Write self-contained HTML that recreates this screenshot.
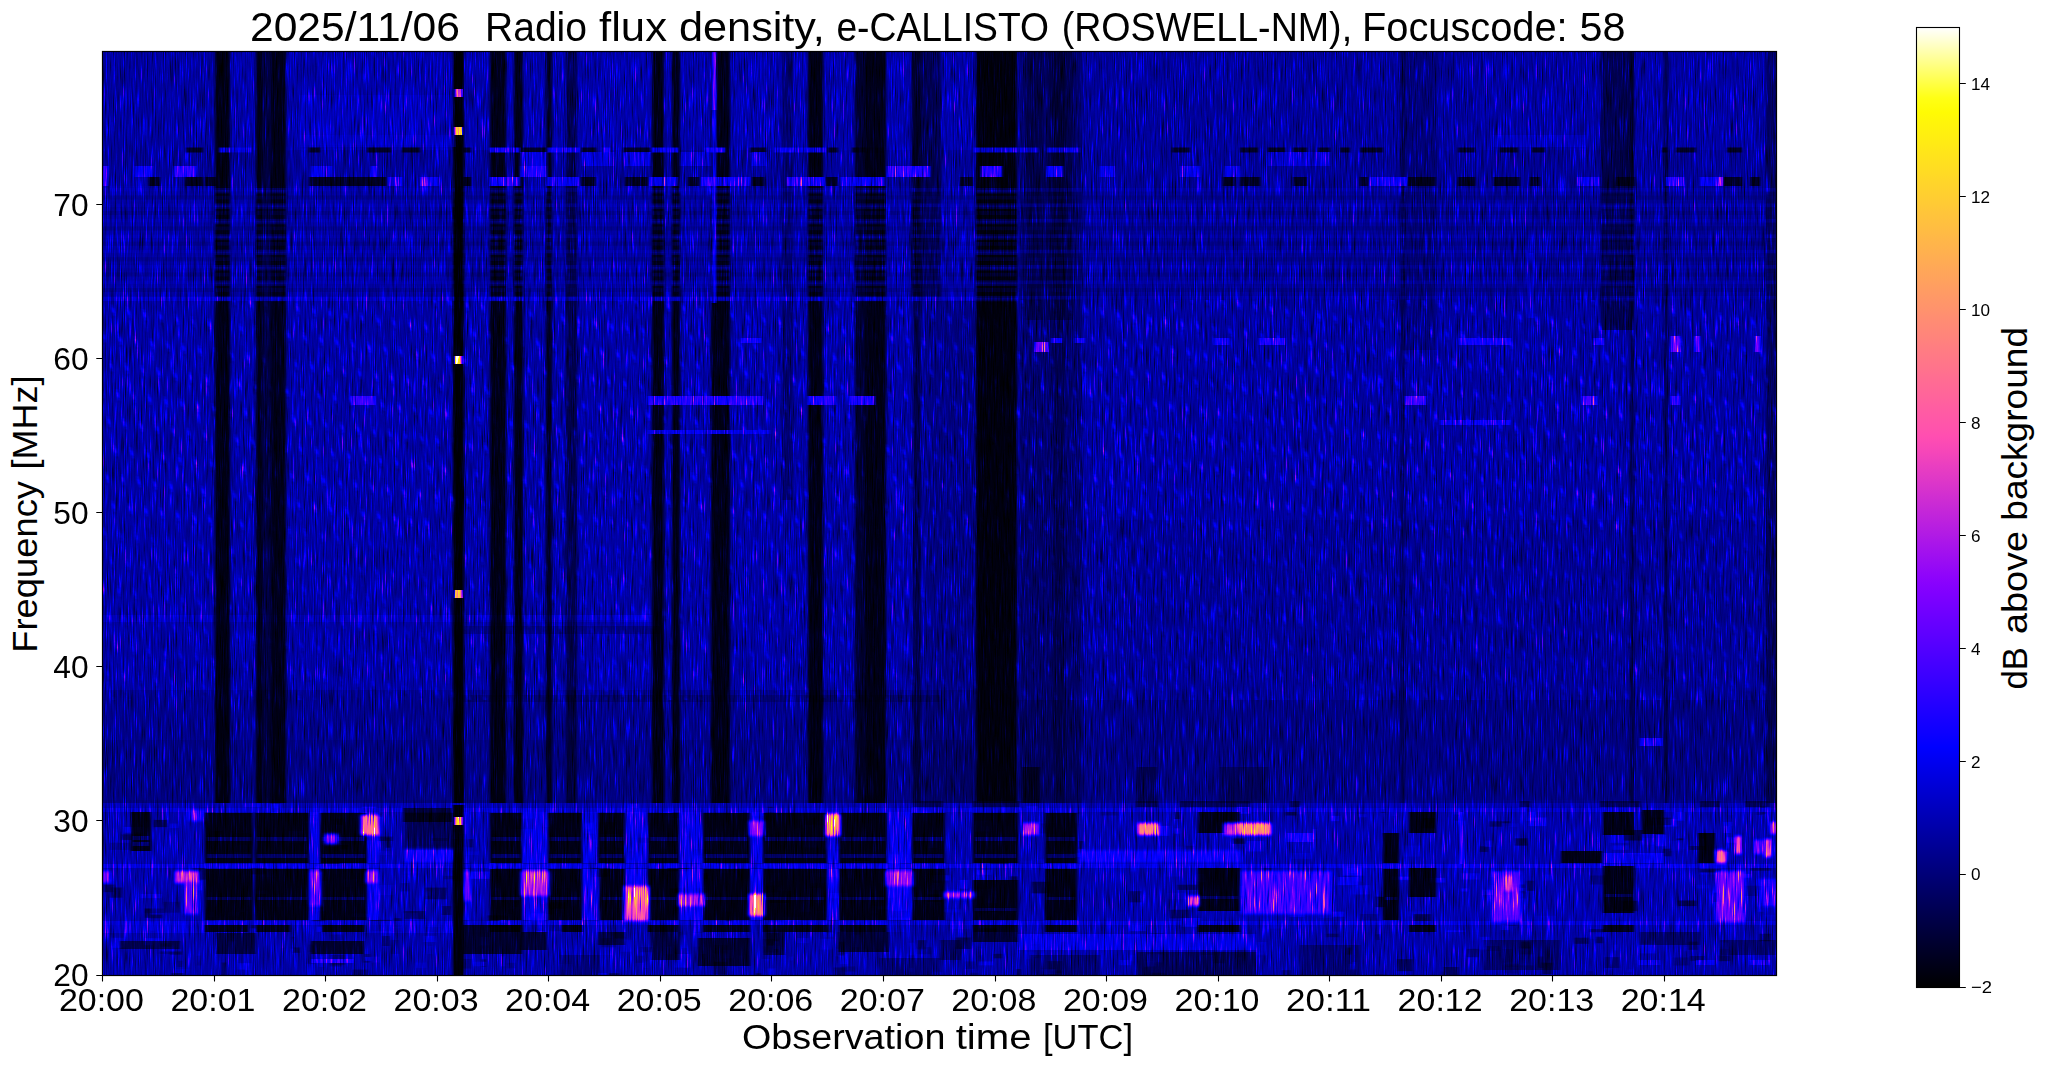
<!DOCTYPE html><html><head><meta charset="utf-8"><style>html,body{margin:0;padding:0;background:#fff;overflow:hidden;}svg{display:block}text{font-family:"Liberation Sans",sans-serif;fill:#000}</style></head><body>
<svg width="2047" height="1067" viewBox="0 0 2047 1067">
<rect width="2047" height="1067" fill="#fff"/>
<defs>
<filter id="cmap" x="0" y="0" width="1" height="1" filterUnits="objectBoundingBox" color-interpolation-filters="sRGB"><feColorMatrix in="SourceGraphic" type="matrix" values="1 0 0 0 0  1 0 0 0 0  1 0 0 0 0  0 0 0 0 1" result="src0"/><feGaussianBlur in="src0" stdDeviation="0.8 0.5" result="src"/><feTurbulence type="fractalNoise" baseFrequency="0.9 0.035" numOctaves="2" seed="5" result="nz0"/><feColorMatrix in="nz0" type="matrix" values="1 0 0 0 0  1 0 0 0 0  1 0 0 0 0  0 0 0 0 1" result="nz1"/><feComponentTransfer in="nz1" result="nz"><feFuncR type="table" tableValues="0.045 0.068 0.136 0.218 0.282 0.318 0.364 0.477 0.682 0.864 0.955"/><feFuncG type="table" tableValues="0.045 0.068 0.136 0.218 0.282 0.318 0.364 0.477 0.682 0.864 0.955"/><feFuncB type="table" tableValues="0.045 0.068 0.136 0.218 0.282 0.318 0.364 0.477 0.682 0.864 0.955"/></feComponentTransfer><feComposite in="src" in2="nz" operator="arithmetic" k1="2.2" k2="0.3" k3="0.1" k4="-0.03"/><feComponentTransfer><feFuncR type="table" tableValues="0 0 0 0 0 0 0 0 0 0 0 0 0 0 0 0 0 0 0 0 0 0 0 0 0 0 0 0 0 0 0 0 0 0 0 0 0 0 0 0 0 0 0 0 0 0 0 0 0 0 0 0 0 0 0 0 0 0 0 0 0 0 0 0 0.003064 0.01532 0.02757 0.03983 0.05208 0.06434 0.07659 0.08885 0.1011 0.1134 0.1256 0.1379 0.1501 0.1624 0.1746 0.1869 0.1991 0.2114 0.2237 0.2359 0.2482 0.2604 0.2727 0.2849 0.2972 0.3094 0.3217 0.3339 0.3462 0.3585 0.3707 0.383 0.3952 0.4075 0.4197 0.432 0.4442 0.4565 0.4688 0.481 0.4933 0.5055 0.5178 0.53 0.5423 0.5545 0.5668 0.579 0.5913 0.6036 0.6158 0.6281 0.6403 0.6526 0.6648 0.6771 0.6893 0.7016 0.7138 0.7261 0.7384 0.7506 0.7629 0.7751 0.7874 0.7996 0.8119 0.8241 0.8364 0.8487 0.8609 0.8732 0.8854 0.8977 0.9099 0.9222 0.9344 0.9467 0.9589 0.9712 0.9835 0.9957 1 1 1 1 1 1 1 1 1 1 1 1 1 1 1 1 1 1 1 1 1 1 1 1 1 1 1 1 1 1 1 1 1 1 1 1 1 1 1 1 1 1 1 1 1 1 1 1 1 1 1 1 1 1 1 1 1 1 1 1 1 1 1 1 1 1 1 1 1 1 1 1 1 1 1 1 1 1 1 1 1 1 1 1 1 1 1 1 1 1 1 1 1 1 1 1 1 1 1 1 1 1 1 1 1 1 1 1 1 1"/><feFuncG type="table" tableValues="0 0 0 0 0 0 0 0 0 0 0 0 0 0 0 0 0 0 0 0 0 0 0 0 0 0 0 0 0 0 0 0 0 0 0 0 0 0 0 0 0 0 0 0 0 0 0 0 0 0 0 0 0 0 0 0 0 0 0 0 0 0 0 0 0 0 0 0 0 0 0 0 0 0 0 0 0 0 0 0 0 0 0 0 0 0 0 0 0 0 0 0 0 0 0 0 0 0 0 0 0 0 0 0 0 0 0 0 0.007059 0.0149 0.02275 0.03059 0.03843 0.04627 0.05412 0.06196 0.0698 0.07765 0.08549 0.09333 0.1012 0.109 0.1169 0.1247 0.1325 0.1404 0.1482 0.1561 0.1639 0.1718 0.1796 0.1875 0.1953 0.2031 0.211 0.2188 0.2267 0.2345 0.2424 0.2502 0.258 0.2659 0.2737 0.2816 0.2894 0.2973 0.3051 0.3129 0.3208 0.3286 0.3365 0.3443 0.3522 0.36 0.3678 0.3757 0.3835 0.3914 0.3992 0.4071 0.4149 0.4227 0.4306 0.4384 0.4463 0.4541 0.462 0.4698 0.4776 0.4855 0.4933 0.5012 0.509 0.5169 0.5247 0.5325 0.5404 0.5482 0.5561 0.5639 0.5718 0.5796 0.5875 0.5953 0.6031 0.611 0.6188 0.6267 0.6345 0.6424 0.6502 0.658 0.6659 0.6737 0.6816 0.6894 0.6973 0.7051 0.7129 0.7208 0.7286 0.7365 0.7443 0.7522 0.76 0.7678 0.7757 0.7835 0.7914 0.7992 0.8071 0.8149 0.8227 0.8306 0.8384 0.8463 0.8541 0.862 0.8698 0.8776 0.8855 0.8933 0.9012 0.909 0.9169 0.9247 0.9325 0.9404 0.9482 0.9561 0.9639 0.9718 0.9796 0.9875 0.9953 1 1 1 1 1 1 1 1 1 1 1 1 1 1 1 1 1 1 1 1 1"/><feFuncB type="table" tableValues="0 0.01569 0.03137 0.04706 0.06275 0.07843 0.09412 0.1098 0.1255 0.1412 0.1569 0.1725 0.1882 0.2039 0.2196 0.2353 0.251 0.2667 0.2824 0.298 0.3137 0.3294 0.3451 0.3608 0.3765 0.3922 0.4078 0.4235 0.4392 0.4549 0.4706 0.4863 0.502 0.5176 0.5333 0.549 0.5647 0.5804 0.5961 0.6118 0.6275 0.6431 0.6588 0.6745 0.6902 0.7059 0.7216 0.7373 0.7529 0.7686 0.7843 0.8 0.8157 0.8314 0.8471 0.8627 0.8784 0.8941 0.9098 0.9255 0.9412 0.9569 0.9725 0.9882 1 1 1 1 1 1 1 1 1 1 1 1 1 1 1 1 1 1 1 1 1 1 1 1 1 1 1 1 1 1 1 1 1 1 1 1 1 1 1 1 1 1 1 1 0.9929 0.9851 0.9773 0.9694 0.9616 0.9537 0.9459 0.938 0.9302 0.9224 0.9145 0.9067 0.8988 0.891 0.8831 0.8753 0.8675 0.8596 0.8518 0.8439 0.8361 0.8282 0.8204 0.8125 0.8047 0.7969 0.789 0.7812 0.7733 0.7655 0.7576 0.7498 0.742 0.7341 0.7263 0.7184 0.7106 0.7027 0.6949 0.6871 0.6792 0.6714 0.6635 0.6557 0.6478 0.64 0.6322 0.6243 0.6165 0.6086 0.6008 0.5929 0.5851 0.5773 0.5694 0.5616 0.5537 0.5459 0.538 0.5302 0.5224 0.5145 0.5067 0.4988 0.491 0.4831 0.4753 0.4675 0.4596 0.4518 0.4439 0.4361 0.4282 0.4204 0.4125 0.4047 0.3969 0.389 0.3812 0.3733 0.3655 0.3576 0.3498 0.342 0.3341 0.3263 0.3184 0.3106 0.3027 0.2949 0.2871 0.2792 0.2714 0.2635 0.2557 0.2478 0.24 0.2322 0.2243 0.2165 0.2086 0.2008 0.1929 0.1851 0.1773 0.1694 0.1616 0.1537 0.1459 0.138 0.1302 0.1224 0.1145 0.1067 0.09882 0.09098 0.08314 0.07529 0.06745 0.05961 0.05176 0.04392 0.03608 0.02824 0.02039 0.01255 0.004706 0.01961 0.06863 0.1176 0.1667 0.2157 0.2647 0.3137 0.3627 0.4118 0.4608 0.5098 0.5588 0.6078 0.6569 0.7059 0.7549 0.8039 0.8529 0.902 0.951 1"/></feComponentTransfer></filter>
<linearGradient id="cbg" x1="0" y1="1" x2="0" y2="0"><stop offset="0.0000" stop-color="#000000"/><stop offset="0.0147" stop-color="#00000f"/><stop offset="0.0294" stop-color="#00001e"/><stop offset="0.0441" stop-color="#00002d"/><stop offset="0.0588" stop-color="#00003c"/><stop offset="0.0735" stop-color="#00004b"/><stop offset="0.0882" stop-color="#00005a"/><stop offset="0.1029" stop-color="#000069"/><stop offset="0.1176" stop-color="#000078"/><stop offset="0.1324" stop-color="#000087"/><stop offset="0.1471" stop-color="#000096"/><stop offset="0.1618" stop-color="#0000a5"/><stop offset="0.1765" stop-color="#0000b4"/><stop offset="0.1912" stop-color="#0000c3"/><stop offset="0.2059" stop-color="#0000d2"/><stop offset="0.2206" stop-color="#0000e1"/><stop offset="0.2353" stop-color="#0000f0"/><stop offset="0.2500" stop-color="#0000ff"/><stop offset="0.2647" stop-color="#0c00ff"/><stop offset="0.2794" stop-color="#1700ff"/><stop offset="0.2941" stop-color="#2300ff"/><stop offset="0.3088" stop-color="#2f00ff"/><stop offset="0.3235" stop-color="#3b00ff"/><stop offset="0.3382" stop-color="#4600ff"/><stop offset="0.3529" stop-color="#5200ff"/><stop offset="0.3676" stop-color="#5e00ff"/><stop offset="0.3824" stop-color="#6900ff"/><stop offset="0.3971" stop-color="#7500ff"/><stop offset="0.4118" stop-color="#8100ff"/><stop offset="0.4265" stop-color="#8d03fc"/><stop offset="0.4412" stop-color="#980bf4"/><stop offset="0.4559" stop-color="#a412ed"/><stop offset="0.4706" stop-color="#b01ae5"/><stop offset="0.4853" stop-color="#bc21de"/><stop offset="0.5000" stop-color="#c729d6"/><stop offset="0.5147" stop-color="#d330cf"/><stop offset="0.5294" stop-color="#df38c7"/><stop offset="0.5441" stop-color="#ea3fc0"/><stop offset="0.5588" stop-color="#f647b8"/><stop offset="0.5735" stop-color="#ff4eb1"/><stop offset="0.5882" stop-color="#ff56a9"/><stop offset="0.6029" stop-color="#ff5da2"/><stop offset="0.6176" stop-color="#ff659a"/><stop offset="0.6324" stop-color="#ff6c93"/><stop offset="0.6471" stop-color="#ff748b"/><stop offset="0.6618" stop-color="#ff7b84"/><stop offset="0.6765" stop-color="#ff837c"/><stop offset="0.6912" stop-color="#ff8a75"/><stop offset="0.7059" stop-color="#ff926d"/><stop offset="0.7206" stop-color="#ff9966"/><stop offset="0.7353" stop-color="#ffa15e"/><stop offset="0.7500" stop-color="#ffa857"/><stop offset="0.7647" stop-color="#ffb04f"/><stop offset="0.7794" stop-color="#ffb748"/><stop offset="0.7941" stop-color="#ffbf40"/><stop offset="0.8088" stop-color="#ffc639"/><stop offset="0.8235" stop-color="#ffce31"/><stop offset="0.8382" stop-color="#ffd52a"/><stop offset="0.8529" stop-color="#ffdd22"/><stop offset="0.8676" stop-color="#ffe41b"/><stop offset="0.8824" stop-color="#ffec13"/><stop offset="0.8971" stop-color="#fff30c"/><stop offset="0.9118" stop-color="#fffb04"/><stop offset="0.9265" stop-color="#ffff15"/><stop offset="0.9412" stop-color="#ffff43"/><stop offset="0.9559" stop-color="#ffff72"/><stop offset="0.9706" stop-color="#ffffa1"/><stop offset="0.9853" stop-color="#ffffd0"/><stop offset="1.0000" stop-color="#ffffff"/></linearGradient>
</defs>
<clipPath id="axclip"><rect x="102.5" y="51.5" width="1674" height="924"/></clipPath>
<g clip-path="url(#axclip)"><g filter="url(#cmap)"><rect x="94" y="43" width="1691" height="940" fill="#262626"/><rect x="94.0" y="43.0" width="1691.0" height="940.0" fill="#262626"/><rect x="102.0" y="51.0" width="873.0" height="99.0" fill="#2a2a2a"/><rect x="102.0" y="51.0" width="113.0" height="99.0" fill="#272727"/><rect x="300.0" y="95.0" width="155.0" height="50.0" fill="#303030" opacity="0.80"/><rect x="102.0" y="186.0" width="873.0" height="114.0" fill="#282828"/><rect x="102.0" y="300.0" width="873.0" height="500.0" fill="#282828"/><rect x="1017.0" y="51.0" width="760.0" height="99.0" fill="#262626"/><rect x="1017.0" y="150.0" width="760.0" height="150.0" fill="#252525"/><rect x="1017.0" y="300.0" width="760.0" height="220.0" fill="#272727"/><rect x="1017.0" y="520.0" width="760.0" height="280.0" fill="#242424"/><rect x="1480.0" y="51.0" width="296.0" height="99.0" fill="#292929" opacity="0.80"/><rect x="102.0" y="615.0" width="558.0" height="7.0" fill="#333333" opacity="0.60"/><rect x="460.0" y="626.0" width="200.0" height="8.0" fill="#141414" opacity="0.45"/><rect x="465.0" y="615.0" width="185.0" height="5.0" fill="#383838" opacity="0.50"/><rect x="460.0" y="695.0" width="480.0" height="7.0" fill="#141414" opacity="0.40"/><rect x="102.0" y="690.0" width="873.0" height="50.0" fill="#000" opacity="0.12"/><rect x="102.0" y="740.0" width="873.0" height="65.0" fill="#000" opacity="0.20"/><rect x="975.0" y="700.0" width="802.0" height="105.0" fill="#000" opacity="0.10"/><defs><pattern id="rain" x="0" y="0" width="16" height="29" patternUnits="userSpaceOnUse" patternTransform="matrix(1 0.144 0.241 1 0 0)"><rect x="7" y="9" width="1.2" height="11" fill="#474747"/><rect x="7" y="12" width="1.2" height="5" fill="#6b6b6b"/></pattern><pattern id="rain2" x="0" y="0" width="16" height="29" patternUnits="userSpaceOnUse" patternTransform="matrix(1 0.144 0.241 1 5 14)"><rect x="3" y="9" width="1.1" height="9" fill="#404040"/></pattern></defs><rect x="102" y="300" width="1675" height="230" fill="url(#rain)" opacity="0.85"/><rect x="102" y="530" width="1675" height="170" fill="url(#rain)" opacity="0.5"/><rect x="102" y="300" width="1675" height="400" fill="url(#rain2)" opacity="0.45"/><rect x="102" y="51" width="1675" height="100" fill="url(#rain2)" opacity="0.35"/><rect x="215.0" y="51.0" width="15.0" height="754.0" fill="#000" opacity="0.88"/><rect x="256.0" y="51.0" width="6.0" height="754.0" fill="#000" opacity="0.85"/><rect x="262.0" y="51.0" width="9.0" height="754.0" fill="#000" opacity="0.60"/><rect x="271.0" y="51.0" width="15.0" height="754.0" fill="#000" opacity="0.85"/><rect x="453.0" y="51.0" width="11.0" height="754.0" fill="#000" opacity="0.96"/><rect x="490.0" y="51.0" width="16.0" height="754.0" fill="#000" opacity="0.86"/><rect x="514.0" y="51.0" width="9.0" height="754.0" fill="#000" opacity="0.86"/><rect x="546.0" y="51.0" width="6.0" height="754.0" fill="#000" opacity="0.78"/><rect x="566.0" y="51.0" width="11.0" height="754.0" fill="#000" opacity="0.55"/><rect x="652.0" y="51.0" width="12.0" height="754.0" fill="#000" opacity="0.88"/><rect x="672.0" y="51.0" width="8.0" height="754.0" fill="#000" opacity="0.86"/><rect x="711.0" y="51.0" width="19.0" height="754.0" fill="#000" opacity="0.86"/><rect x="808.0" y="51.0" width="15.0" height="754.0" fill="#000" opacity="0.88"/><rect x="855.0" y="51.0" width="10.0" height="754.0" fill="#000" opacity="0.70"/><rect x="865.0" y="51.0" width="21.0" height="754.0" fill="#000" opacity="0.86"/><rect x="913.0" y="51.0" width="8.0" height="754.0" fill="#000" opacity="0.55"/><rect x="976.0" y="51.0" width="41.0" height="754.0" fill="#000" opacity="0.90"/><rect x="1630.0" y="51.0" width="4.0" height="754.0" fill="#000" opacity="0.50"/><rect x="1664.0" y="51.0" width="4.0" height="754.0" fill="#000" opacity="0.50"/><rect x="1400.0" y="51.0" width="5.0" height="754.0" fill="#000" opacity="0.35"/><rect x="1766.0" y="51.0" width="10.0" height="754.0" fill="#000" opacity="0.40"/><rect x="1601.0" y="51.0" width="33.0" height="279.0" fill="#000" opacity="0.50"/><rect x="782.0" y="51.0" width="11.0" height="449.0" fill="#000" opacity="0.30"/><rect x="911.0" y="51.0" width="30.0" height="249.0" fill="#000" opacity="0.50"/><rect x="1020.0" y="51.0" width="62.0" height="754.0" fill="#000" opacity="0.30"/><rect x="925.0" y="300.0" width="50.0" height="505.0" fill="#000" opacity="0.20"/><rect x="1053.0" y="51.0" width="12.0" height="754.0" fill="#000" opacity="0.25"/><rect x="1026.0" y="51.0" width="17.0" height="269.0" fill="#000" opacity="0.30"/><rect x="1047.0" y="51.0" width="26.0" height="269.0" fill="#000" opacity="0.30"/><rect x="1402.0" y="51.0" width="35.0" height="299.0" fill="#000" opacity="0.20"/><rect x="1137.0" y="767.0" width="20.0" height="38.0" fill="#000" opacity="0.40"/><rect x="1219.0" y="767.0" width="49.0" height="38.0" fill="#000" opacity="0.30"/><rect x="1022.0" y="767.0" width="18.0" height="38.0" fill="#000" opacity="0.60"/><rect x="215.0" y="190.0" width="15.0" height="3.5" fill="#262626" opacity="0.45"/><rect x="254.0" y="190.0" width="33.0" height="3.5" fill="#262626" opacity="0.45"/><rect x="490.0" y="190.0" width="16.0" height="3.5" fill="#262626" opacity="0.45"/><rect x="514.0" y="190.0" width="9.0" height="3.5" fill="#262626" opacity="0.45"/><rect x="652.0" y="190.0" width="12.0" height="3.5" fill="#262626" opacity="0.45"/><rect x="672.0" y="190.0" width="8.0" height="3.5" fill="#262626" opacity="0.45"/><rect x="711.0" y="190.0" width="19.0" height="3.5" fill="#262626" opacity="0.45"/><rect x="808.0" y="190.0" width="15.0" height="3.5" fill="#262626" opacity="0.45"/><rect x="852.0" y="190.0" width="34.0" height="3.5" fill="#262626" opacity="0.45"/><rect x="976.0" y="190.0" width="41.0" height="3.5" fill="#262626" opacity="0.45"/><rect x="1601.0" y="190.0" width="33.0" height="3.5" fill="#262626" opacity="0.45"/><rect x="215.0" y="205.4" width="15.0" height="3.5" fill="#262626" opacity="0.45"/><rect x="254.0" y="205.4" width="33.0" height="3.5" fill="#262626" opacity="0.45"/><rect x="490.0" y="205.4" width="16.0" height="3.5" fill="#262626" opacity="0.45"/><rect x="514.0" y="205.4" width="9.0" height="3.5" fill="#262626" opacity="0.45"/><rect x="652.0" y="205.4" width="12.0" height="3.5" fill="#262626" opacity="0.45"/><rect x="672.0" y="205.4" width="8.0" height="3.5" fill="#262626" opacity="0.45"/><rect x="711.0" y="205.4" width="19.0" height="3.5" fill="#262626" opacity="0.45"/><rect x="808.0" y="205.4" width="15.0" height="3.5" fill="#262626" opacity="0.45"/><rect x="852.0" y="205.4" width="34.0" height="3.5" fill="#262626" opacity="0.45"/><rect x="976.0" y="205.4" width="41.0" height="3.5" fill="#262626" opacity="0.45"/><rect x="1601.0" y="205.4" width="33.0" height="3.5" fill="#262626" opacity="0.45"/><rect x="215.0" y="220.8" width="15.0" height="3.5" fill="#262626" opacity="0.45"/><rect x="254.0" y="220.8" width="33.0" height="3.5" fill="#262626" opacity="0.45"/><rect x="490.0" y="220.8" width="16.0" height="3.5" fill="#262626" opacity="0.45"/><rect x="514.0" y="220.8" width="9.0" height="3.5" fill="#262626" opacity="0.45"/><rect x="652.0" y="220.8" width="12.0" height="3.5" fill="#262626" opacity="0.45"/><rect x="672.0" y="220.8" width="8.0" height="3.5" fill="#262626" opacity="0.45"/><rect x="711.0" y="220.8" width="19.0" height="3.5" fill="#262626" opacity="0.45"/><rect x="808.0" y="220.8" width="15.0" height="3.5" fill="#262626" opacity="0.45"/><rect x="852.0" y="220.8" width="34.0" height="3.5" fill="#262626" opacity="0.45"/><rect x="976.0" y="220.8" width="41.0" height="3.5" fill="#262626" opacity="0.45"/><rect x="1601.0" y="220.8" width="33.0" height="3.5" fill="#262626" opacity="0.45"/><rect x="215.0" y="236.2" width="15.0" height="3.5" fill="#262626" opacity="0.45"/><rect x="254.0" y="236.2" width="33.0" height="3.5" fill="#262626" opacity="0.45"/><rect x="490.0" y="236.2" width="16.0" height="3.5" fill="#262626" opacity="0.45"/><rect x="514.0" y="236.2" width="9.0" height="3.5" fill="#262626" opacity="0.45"/><rect x="652.0" y="236.2" width="12.0" height="3.5" fill="#262626" opacity="0.45"/><rect x="672.0" y="236.2" width="8.0" height="3.5" fill="#262626" opacity="0.45"/><rect x="711.0" y="236.2" width="19.0" height="3.5" fill="#262626" opacity="0.45"/><rect x="808.0" y="236.2" width="15.0" height="3.5" fill="#262626" opacity="0.45"/><rect x="852.0" y="236.2" width="34.0" height="3.5" fill="#262626" opacity="0.45"/><rect x="976.0" y="236.2" width="41.0" height="3.5" fill="#262626" opacity="0.45"/><rect x="1601.0" y="236.2" width="33.0" height="3.5" fill="#262626" opacity="0.45"/><rect x="215.0" y="251.6" width="15.0" height="3.5" fill="#262626" opacity="0.45"/><rect x="254.0" y="251.6" width="33.0" height="3.5" fill="#262626" opacity="0.45"/><rect x="490.0" y="251.6" width="16.0" height="3.5" fill="#262626" opacity="0.45"/><rect x="514.0" y="251.6" width="9.0" height="3.5" fill="#262626" opacity="0.45"/><rect x="652.0" y="251.6" width="12.0" height="3.5" fill="#262626" opacity="0.45"/><rect x="672.0" y="251.6" width="8.0" height="3.5" fill="#262626" opacity="0.45"/><rect x="711.0" y="251.6" width="19.0" height="3.5" fill="#262626" opacity="0.45"/><rect x="808.0" y="251.6" width="15.0" height="3.5" fill="#262626" opacity="0.45"/><rect x="852.0" y="251.6" width="34.0" height="3.5" fill="#262626" opacity="0.45"/><rect x="976.0" y="251.6" width="41.0" height="3.5" fill="#262626" opacity="0.45"/><rect x="1601.0" y="251.6" width="33.0" height="3.5" fill="#262626" opacity="0.45"/><rect x="215.0" y="267.0" width="15.0" height="3.5" fill="#262626" opacity="0.45"/><rect x="254.0" y="267.0" width="33.0" height="3.5" fill="#262626" opacity="0.45"/><rect x="490.0" y="267.0" width="16.0" height="3.5" fill="#262626" opacity="0.45"/><rect x="514.0" y="267.0" width="9.0" height="3.5" fill="#262626" opacity="0.45"/><rect x="652.0" y="267.0" width="12.0" height="3.5" fill="#262626" opacity="0.45"/><rect x="672.0" y="267.0" width="8.0" height="3.5" fill="#262626" opacity="0.45"/><rect x="711.0" y="267.0" width="19.0" height="3.5" fill="#262626" opacity="0.45"/><rect x="808.0" y="267.0" width="15.0" height="3.5" fill="#262626" opacity="0.45"/><rect x="852.0" y="267.0" width="34.0" height="3.5" fill="#262626" opacity="0.45"/><rect x="976.0" y="267.0" width="41.0" height="3.5" fill="#262626" opacity="0.45"/><rect x="1601.0" y="267.0" width="33.0" height="3.5" fill="#262626" opacity="0.45"/><rect x="215.0" y="282.4" width="15.0" height="3.5" fill="#262626" opacity="0.45"/><rect x="254.0" y="282.4" width="33.0" height="3.5" fill="#262626" opacity="0.45"/><rect x="490.0" y="282.4" width="16.0" height="3.5" fill="#262626" opacity="0.45"/><rect x="514.0" y="282.4" width="9.0" height="3.5" fill="#262626" opacity="0.45"/><rect x="652.0" y="282.4" width="12.0" height="3.5" fill="#262626" opacity="0.45"/><rect x="672.0" y="282.4" width="8.0" height="3.5" fill="#262626" opacity="0.45"/><rect x="711.0" y="282.4" width="19.0" height="3.5" fill="#262626" opacity="0.45"/><rect x="808.0" y="282.4" width="15.0" height="3.5" fill="#262626" opacity="0.45"/><rect x="852.0" y="282.4" width="34.0" height="3.5" fill="#262626" opacity="0.45"/><rect x="976.0" y="282.4" width="41.0" height="3.5" fill="#262626" opacity="0.45"/><rect x="1601.0" y="282.4" width="33.0" height="3.5" fill="#262626" opacity="0.45"/><rect x="215.0" y="297.8" width="15.0" height="3.5" fill="#262626" opacity="0.45"/><rect x="254.0" y="297.8" width="33.0" height="3.5" fill="#262626" opacity="0.45"/><rect x="490.0" y="297.8" width="16.0" height="3.5" fill="#262626" opacity="0.45"/><rect x="514.0" y="297.8" width="9.0" height="3.5" fill="#262626" opacity="0.45"/><rect x="652.0" y="297.8" width="12.0" height="3.5" fill="#262626" opacity="0.45"/><rect x="672.0" y="297.8" width="8.0" height="3.5" fill="#262626" opacity="0.45"/><rect x="711.0" y="297.8" width="19.0" height="3.5" fill="#262626" opacity="0.45"/><rect x="808.0" y="297.8" width="15.0" height="3.5" fill="#262626" opacity="0.45"/><rect x="852.0" y="297.8" width="34.0" height="3.5" fill="#262626" opacity="0.45"/><rect x="976.0" y="297.8" width="41.0" height="3.5" fill="#262626" opacity="0.45"/><rect x="1601.0" y="297.8" width="33.0" height="3.5" fill="#262626" opacity="0.45"/><rect x="300.0" y="135.0" width="155.0" height="12.0" fill="#333333" opacity="0.60"/><rect x="1493.0" y="135.0" width="93.0" height="12.0" fill="#333333" opacity="0.60"/><rect x="186.0" y="147.5" width="17.0" height="5.0" fill="#050505" opacity="0.85"/><rect x="309.0" y="147.5" width="11.0" height="5.0" fill="#050505" opacity="0.85"/><rect x="367.0" y="147.5" width="24.0" height="5.0" fill="#050505" opacity="0.85"/><rect x="402.0" y="147.5" width="18.0" height="5.0" fill="#050505" opacity="0.85"/><rect x="461.0" y="147.5" width="10.0" height="5.0" fill="#050505" opacity="0.85"/><rect x="520.0" y="147.5" width="27.0" height="5.0" fill="#050505" opacity="0.85"/><rect x="581.0" y="147.5" width="15.0" height="5.0" fill="#050505" opacity="0.85"/><rect x="623.0" y="147.5" width="28.0" height="5.0" fill="#050505" opacity="0.85"/><rect x="750.0" y="147.5" width="16.0" height="5.0" fill="#050505" opacity="0.85"/><rect x="828.0" y="147.5" width="10.0" height="5.0" fill="#050505" opacity="0.85"/><rect x="852.0" y="147.5" width="33.0" height="5.0" fill="#050505" opacity="0.85"/><rect x="1172.0" y="147.5" width="18.0" height="5.0" fill="#050505" opacity="0.85"/><rect x="1240.0" y="147.5" width="18.0" height="5.0" fill="#050505" opacity="0.85"/><rect x="1268.0" y="147.5" width="17.0" height="5.0" fill="#050505" opacity="0.85"/><rect x="1293.0" y="147.5" width="14.0" height="5.0" fill="#050505" opacity="0.85"/><rect x="1318.0" y="147.5" width="12.0" height="5.0" fill="#050505" opacity="0.85"/><rect x="1340.0" y="147.5" width="10.0" height="5.0" fill="#050505" opacity="0.85"/><rect x="1360.0" y="147.5" width="23.0" height="5.0" fill="#050505" opacity="0.85"/><rect x="1458.0" y="147.5" width="17.0" height="5.0" fill="#050505" opacity="0.85"/><rect x="1500.0" y="147.5" width="18.0" height="5.0" fill="#050505" opacity="0.85"/><rect x="1532.0" y="147.5" width="13.0" height="5.0" fill="#050505" opacity="0.85"/><rect x="1662.0" y="147.5" width="6.0" height="5.0" fill="#050505" opacity="0.85"/><rect x="1676.0" y="147.5" width="20.0" height="5.0" fill="#050505" opacity="0.85"/><rect x="1727.0" y="147.5" width="15.0" height="5.0" fill="#050505" opacity="0.85"/><rect x="219.0" y="147.5" width="33.0" height="5.0" fill="#3d3d3d" opacity="0.80"/><rect x="490.0" y="147.5" width="30.0" height="5.0" fill="#4c4c4c" opacity="0.80"/><rect x="547.0" y="147.5" width="33.0" height="5.0" fill="#474747" opacity="0.80"/><rect x="602.0" y="147.5" width="8.0" height="5.0" fill="#474747" opacity="0.80"/><rect x="651.0" y="147.5" width="27.0" height="5.0" fill="#454545" opacity="0.80"/><rect x="705.0" y="147.5" width="20.0" height="5.0" fill="#4c4c4c" opacity="0.80"/><rect x="774.0" y="147.5" width="52.0" height="5.0" fill="#424242" opacity="0.80"/><rect x="973.0" y="147.5" width="65.0" height="5.0" fill="#404040" opacity="0.80"/><rect x="1047.0" y="147.5" width="33.0" height="5.0" fill="#404040" opacity="0.80"/><rect x="520.0" y="152.0" width="27.0" height="14.0" fill="#3d3d3d" opacity="0.80"/><rect x="582.0" y="152.0" width="32.0" height="14.0" fill="#3b3b3b" opacity="0.80"/><rect x="625.0" y="152.0" width="26.0" height="14.0" fill="#3d3d3d" opacity="0.80"/><rect x="680.0" y="152.0" width="31.0" height="14.0" fill="#3b3b3b" opacity="0.80"/><rect x="752.0" y="152.0" width="14.0" height="14.0" fill="#383838" opacity="0.80"/><rect x="1268.0" y="152.0" width="62.0" height="14.0" fill="#383838" opacity="0.80"/><rect x="100.0" y="166.0" width="8.0" height="11.0" fill="#525252" opacity="0.85"/><rect x="135.0" y="166.0" width="18.0" height="11.0" fill="#474747" opacity="0.85"/><rect x="174.0" y="166.0" width="22.0" height="11.0" fill="#545454" opacity="0.85"/><rect x="311.0" y="166.0" width="21.0" height="11.0" fill="#404040" opacity="0.85"/><rect x="371.0" y="166.0" width="6.0" height="11.0" fill="#4c4c4c" opacity="0.85"/><rect x="520.0" y="166.0" width="27.0" height="11.0" fill="#4c4c4c" opacity="0.85"/><rect x="887.0" y="166.0" width="43.0" height="11.0" fill="#545454" opacity="0.85"/><rect x="981.0" y="166.0" width="21.0" height="11.0" fill="#575757" opacity="0.85"/><rect x="1047.0" y="166.0" width="16.0" height="11.0" fill="#4c4c4c" opacity="0.85"/><rect x="1100.0" y="166.0" width="15.0" height="11.0" fill="#404040" opacity="0.85"/><rect x="1180.0" y="166.0" width="20.0" height="11.0" fill="#424242" opacity="0.85"/><rect x="1225.0" y="166.0" width="15.0" height="11.0" fill="#424242" opacity="0.85"/><rect x="149.0" y="177.0" width="11.0" height="9.0" fill="#050505" opacity="0.90"/><rect x="186.0" y="177.0" width="17.0" height="9.0" fill="#050505" opacity="0.90"/><rect x="205.0" y="177.0" width="10.0" height="9.0" fill="#050505" opacity="0.90"/><rect x="309.0" y="177.0" width="78.0" height="9.0" fill="#050505" opacity="0.90"/><rect x="463.0" y="177.0" width="8.0" height="9.0" fill="#050505" opacity="0.90"/><rect x="579.0" y="177.0" width="17.0" height="9.0" fill="#050505" opacity="0.90"/><rect x="625.0" y="177.0" width="23.0" height="9.0" fill="#050505" opacity="0.90"/><rect x="688.0" y="177.0" width="12.0" height="9.0" fill="#050505" opacity="0.90"/><rect x="752.0" y="177.0" width="12.0" height="9.0" fill="#050505" opacity="0.90"/><rect x="826.0" y="177.0" width="12.0" height="9.0" fill="#050505" opacity="0.90"/><rect x="960.0" y="177.0" width="13.0" height="9.0" fill="#050505" opacity="0.90"/><rect x="1223.0" y="177.0" width="12.0" height="9.0" fill="#050505" opacity="0.90"/><rect x="1240.0" y="177.0" width="20.0" height="9.0" fill="#050505" opacity="0.90"/><rect x="1293.0" y="177.0" width="14.0" height="9.0" fill="#050505" opacity="0.90"/><rect x="1360.0" y="177.0" width="8.0" height="9.0" fill="#050505" opacity="0.90"/><rect x="1407.0" y="177.0" width="29.0" height="9.0" fill="#050505" opacity="0.90"/><rect x="1458.0" y="177.0" width="17.0" height="9.0" fill="#050505" opacity="0.90"/><rect x="1493.0" y="177.0" width="27.0" height="9.0" fill="#050505" opacity="0.90"/><rect x="1530.0" y="177.0" width="10.0" height="9.0" fill="#050505" opacity="0.90"/><rect x="1616.0" y="177.0" width="19.0" height="9.0" fill="#050505" opacity="0.90"/><rect x="1723.0" y="177.0" width="19.0" height="9.0" fill="#050505" opacity="0.90"/><rect x="1750.0" y="177.0" width="10.0" height="9.0" fill="#050505" opacity="0.90"/><rect x="100.0" y="177.0" width="8.0" height="9.0" fill="#525252" opacity="0.85"/><rect x="387.0" y="177.0" width="15.0" height="9.0" fill="#454545" opacity="0.85"/><rect x="420.0" y="177.0" width="19.0" height="9.0" fill="#474747" opacity="0.85"/><rect x="490.0" y="177.0" width="30.0" height="9.0" fill="#4c4c4c" opacity="0.85"/><rect x="547.0" y="177.0" width="33.0" height="9.0" fill="#474747" opacity="0.85"/><rect x="649.0" y="177.0" width="29.0" height="9.0" fill="#454545" opacity="0.85"/><rect x="700.0" y="177.0" width="50.0" height="9.0" fill="#454545" opacity="0.85"/><rect x="787.0" y="177.0" width="37.0" height="9.0" fill="#4c4c4c" opacity="0.85"/><rect x="840.0" y="177.0" width="45.0" height="9.0" fill="#474747" opacity="0.85"/><rect x="1370.0" y="177.0" width="37.0" height="9.0" fill="#454545" opacity="0.85"/><rect x="1577.0" y="177.0" width="23.0" height="9.0" fill="#404040" opacity="0.85"/><rect x="1666.0" y="177.0" width="18.0" height="9.0" fill="#4c4c4c" opacity="0.85"/><rect x="1700.0" y="177.0" width="21.0" height="9.0" fill="#454545" opacity="0.85"/><rect x="1719.0" y="177.0" width="4.0" height="9.0" fill="#737373" opacity="0.85"/><rect x="102.0" y="188.0" width="1675.0" height="3.8" fill="#303030" opacity="0.35"/><rect x="102.0" y="195.7" width="1675.0" height="3.8" fill="#1a1a1a" opacity="0.35"/><rect x="102.0" y="203.4" width="1675.0" height="3.8" fill="#303030" opacity="0.35"/><rect x="102.0" y="211.1" width="1675.0" height="3.8" fill="#1a1a1a" opacity="0.35"/><rect x="102.0" y="218.8" width="1675.0" height="3.8" fill="#303030" opacity="0.35"/><rect x="102.0" y="226.5" width="1675.0" height="3.8" fill="#1a1a1a" opacity="0.35"/><rect x="102.0" y="234.2" width="1675.0" height="3.8" fill="#303030" opacity="0.35"/><rect x="102.0" y="241.9" width="1675.0" height="3.8" fill="#1a1a1a" opacity="0.35"/><rect x="102.0" y="249.6" width="1675.0" height="3.8" fill="#303030" opacity="0.35"/><rect x="102.0" y="257.3" width="1675.0" height="3.8" fill="#1a1a1a" opacity="0.35"/><rect x="102.0" y="265.0" width="1675.0" height="3.8" fill="#303030" opacity="0.35"/><rect x="102.0" y="272.7" width="1675.0" height="3.8" fill="#1a1a1a" opacity="0.35"/><rect x="102.0" y="280.4" width="1675.0" height="3.8" fill="#303030" opacity="0.35"/><rect x="102.0" y="288.1" width="1675.0" height="3.8" fill="#1a1a1a" opacity="0.35"/><rect x="102.0" y="295.8" width="1675.0" height="3.8" fill="#303030" opacity="0.35"/><rect x="102.0" y="297.0" width="873.0" height="4.0" fill="#383838" opacity="0.60"/><rect x="454.0" y="186.0" width="9.0" height="116.0" fill="#000" opacity="0.95"/><rect x="351.0" y="396.0" width="24.0" height="9.0" fill="#525252" opacity="0.90"/><rect x="648.0" y="396.0" width="115.0" height="9.0" fill="#4c4c4c" opacity="0.90"/><rect x="808.0" y="396.0" width="28.0" height="9.0" fill="#4c4c4c" opacity="0.90"/><rect x="849.0" y="396.0" width="26.0" height="9.0" fill="#4c4c4c" opacity="0.90"/><rect x="741.0" y="338.0" width="20.0" height="5.0" fill="#454545" opacity="0.90"/><rect x="1035.0" y="342.0" width="13.0" height="10.0" fill="#6b6b6b" opacity="0.90"/><rect x="1051.0" y="338.0" width="11.0" height="5.0" fill="#454545" opacity="0.90"/><rect x="1075.0" y="338.0" width="10.0" height="5.0" fill="#454545" opacity="0.90"/><rect x="1217.0" y="338.0" width="10.0" height="5.0" fill="#454545" opacity="0.90"/><rect x="1214.0" y="338.0" width="15.0" height="7.0" fill="#474747" opacity="0.90"/><rect x="1259.0" y="338.0" width="26.0" height="7.0" fill="#4c4c4c" opacity="0.90"/><rect x="1459.0" y="338.0" width="52.0" height="7.0" fill="#474747" opacity="0.90"/><rect x="1593.0" y="338.0" width="11.0" height="7.0" fill="#474747" opacity="0.90"/><rect x="1671.0" y="336.0" width="9.0" height="16.0" fill="#666666" opacity="0.90"/><rect x="1695.0" y="336.0" width="5.0" height="16.0" fill="#616161" opacity="0.90"/><rect x="1755.0" y="336.0" width="5.0" height="16.0" fill="#666666" opacity="0.90"/><rect x="1405.0" y="396.0" width="21.0" height="9.0" fill="#595959" opacity="0.90"/><rect x="1582.0" y="396.0" width="15.0" height="9.0" fill="#595959" opacity="0.90"/><rect x="1671.0" y="396.0" width="9.0" height="9.0" fill="#525252" opacity="0.90"/><rect x="1440.0" y="420.0" width="70.0" height="5.0" fill="#424242" opacity="0.90"/><rect x="648.0" y="430.0" width="122.0" height="4.0" fill="#3d3d3d" opacity="0.90"/><rect x="1528.0" y="253.0" width="6.0" height="65.0" fill="#383838" opacity="0.70"/><rect x="1640.0" y="738.0" width="22.0" height="8.0" fill="#454545" opacity="0.90"/><rect x="102.0" y="803.0" width="1675.0" height="129.0" fill="#2b2b2b"/><rect x="642.2" y="915.0" width="6.7" height="3.7" fill="#3d3d3d" opacity="0.60"/><rect x="259.0" y="959.5" width="14.5" height="4.9" fill="#050505" opacity="0.60"/><rect x="825.3" y="818.6" width="5.3" height="6.8" fill="#3d3d3d" opacity="0.60"/><rect x="308.5" y="910.9" width="8.0" height="11.5" fill="#3d3d3d" opacity="0.60"/><rect x="1078.7" y="841.0" width="4.9" height="8.0" fill="#0d0d0d" opacity="0.60"/><rect x="585.1" y="823.3" width="6.6" height="5.8" fill="#474747" opacity="0.60"/><rect x="403.5" y="912.9" width="14.5" height="6.4" fill="#3d3d3d" opacity="0.60"/><rect x="1289.8" y="909.5" width="14.2" height="7.5" fill="#3d3d3d" opacity="0.60"/><rect x="815.2" y="903.7" width="9.7" height="7.1" fill="#1a1a1a" opacity="0.60"/><rect x="516.4" y="937.1" width="7.2" height="3.7" fill="#1a1a1a" opacity="0.60"/><rect x="978.0" y="928.5" width="19.8" height="5.6" fill="#050505" opacity="0.60"/><rect x="298.9" y="933.2" width="11.5" height="4.4" fill="#333333" opacity="0.60"/><rect x="805.4" y="816.4" width="21.3" height="8.0" fill="#1a1a1a" opacity="0.60"/><rect x="669.3" y="888.4" width="10.3" height="10.2" fill="#050505" opacity="0.60"/><rect x="1503.1" y="884.5" width="21.0" height="9.0" fill="#050505" opacity="0.60"/><rect x="1321.6" y="902.4" width="9.6" height="9.1" fill="#333333" opacity="0.60"/><rect x="576.7" y="918.0" width="10.9" height="3.2" fill="#333333" opacity="0.60"/><rect x="694.9" y="887.9" width="15.0" height="5.0" fill="#1a1a1a" opacity="0.60"/><rect x="317.7" y="870.2" width="8.5" height="10.8" fill="#050505" opacity="0.60"/><rect x="379.5" y="850.8" width="11.2" height="4.2" fill="#333333" opacity="0.60"/><rect x="1543.1" y="874.4" width="9.0" height="6.2" fill="#333333" opacity="0.60"/><rect x="1699.5" y="833.3" width="6.7" height="5.1" fill="#0d0d0d" opacity="0.60"/><rect x="122.1" y="834.4" width="19.0" height="5.5" fill="#0d0d0d" opacity="0.60"/><rect x="800.8" y="900.4" width="10.6" height="11.6" fill="#474747" opacity="0.60"/><rect x="1535.1" y="915.7" width="21.1" height="9.7" fill="#333333" opacity="0.60"/><rect x="1602.4" y="953.4" width="18.0" height="10.2" fill="#333333" opacity="0.60"/><rect x="766.0" y="885.8" width="11.1" height="6.6" fill="#0d0d0d" opacity="0.60"/><rect x="214.3" y="830.9" width="7.8" height="6.1" fill="#050505" opacity="0.60"/><rect x="272.8" y="895.3" width="14.2" height="11.5" fill="#3d3d3d" opacity="0.60"/><rect x="144.5" y="908.6" width="19.7" height="4.3" fill="#1a1a1a" opacity="0.60"/><rect x="1695.7" y="884.6" width="14.8" height="4.0" fill="#333333" opacity="0.60"/><rect x="1758.5" y="886.2" width="12.4" height="3.8" fill="#050505" opacity="0.60"/><rect x="1352.5" y="885.3" width="17.3" height="9.2" fill="#3d3d3d" opacity="0.60"/><rect x="140.5" y="893.9" width="21.1" height="4.3" fill="#3d3d3d" opacity="0.60"/><rect x="1626.8" y="854.3" width="17.6" height="8.8" fill="#050505" opacity="0.60"/><rect x="1263.3" y="866.1" width="8.7" height="4.5" fill="#0d0d0d" opacity="0.60"/><rect x="990.4" y="859.7" width="18.0" height="5.0" fill="#0d0d0d" opacity="0.60"/><rect x="1446.5" y="930.3" width="18.7" height="5.0" fill="#3d3d3d" opacity="0.60"/><rect x="924.0" y="973.2" width="17.2" height="1.8" fill="#333333" opacity="0.60"/><rect x="534.3" y="967.5" width="16.5" height="7.0" fill="#474747" opacity="0.60"/><rect x="1750.0" y="865.7" width="21.2" height="5.0" fill="#0d0d0d" opacity="0.60"/><rect x="886.1" y="886.0" width="10.1" height="11.9" fill="#3d3d3d" opacity="0.60"/><rect x="1503.8" y="915.3" width="12.6" height="10.2" fill="#050505" opacity="0.60"/><rect x="1494.2" y="869.8" width="6.2" height="9.4" fill="#0d0d0d" opacity="0.60"/><rect x="899.4" y="938.7" width="7.2" height="6.0" fill="#474747" opacity="0.60"/><rect x="762.3" y="965.8" width="11.2" height="9.2" fill="#0d0d0d" opacity="0.60"/><rect x="1758.5" y="904.6" width="4.5" height="7.2" fill="#474747" opacity="0.60"/><rect x="345.8" y="971.6" width="18.9" height="3.4" fill="#1a1a1a" opacity="0.60"/><rect x="362.1" y="806.7" width="13.9" height="10.2" fill="#474747" opacity="0.60"/><rect x="1185.7" y="963.6" width="13.5" height="6.9" fill="#0d0d0d" opacity="0.60"/><rect x="1480.0" y="846.3" width="7.8" height="5.6" fill="#0d0d0d" opacity="0.60"/><rect x="1375.8" y="896.6" width="9.9" height="10.5" fill="#050505" opacity="0.60"/><rect x="1619.9" y="881.8" width="10.4" height="8.3" fill="#3d3d3d" opacity="0.60"/><rect x="803.6" y="889.3" width="20.5" height="7.8" fill="#3d3d3d" opacity="0.60"/><rect x="953.6" y="936.6" width="19.7" height="8.5" fill="#0d0d0d" opacity="0.60"/><rect x="389.5" y="927.7" width="12.5" height="8.0" fill="#1a1a1a" opacity="0.60"/><rect x="1240.1" y="886.0" width="13.6" height="10.0" fill="#3d3d3d" opacity="0.60"/><rect x="196.8" y="810.3" width="7.4" height="3.9" fill="#333333" opacity="0.60"/><rect x="1039.0" y="959.9" width="17.7" height="7.0" fill="#3d3d3d" opacity="0.60"/><rect x="1725.6" y="837.3" width="14.9" height="5.5" fill="#3d3d3d" opacity="0.60"/><rect x="991.5" y="964.9" width="12.6" height="9.3" fill="#1a1a1a" opacity="0.60"/><rect x="1641.2" y="837.8" width="20.1" height="7.0" fill="#333333" opacity="0.60"/><rect x="304.9" y="815.5" width="12.0" height="5.2" fill="#050505" opacity="0.60"/><rect x="456.8" y="824.0" width="9.5" height="10.0" fill="#474747" opacity="0.60"/><rect x="1175.3" y="846.5" width="10.6" height="4.2" fill="#333333" opacity="0.60"/><rect x="468.3" y="871.5" width="21.1" height="7.4" fill="#474747" opacity="0.60"/><rect x="1490.5" y="877.2" width="6.9" height="7.6" fill="#1a1a1a" opacity="0.60"/><rect x="804.7" y="818.9" width="10.4" height="6.3" fill="#1a1a1a" opacity="0.60"/><rect x="1026.2" y="806.1" width="11.9" height="6.0" fill="#3d3d3d" opacity="0.60"/><rect x="594.8" y="822.4" width="21.3" height="11.3" fill="#0d0d0d" opacity="0.60"/><rect x="1722.8" y="848.7" width="5.9" height="3.4" fill="#0d0d0d" opacity="0.60"/><rect x="553.1" y="875.6" width="6.3" height="11.2" fill="#1a1a1a" opacity="0.60"/><rect x="779.1" y="891.5" width="13.7" height="7.5" fill="#1a1a1a" opacity="0.60"/><rect x="251.2" y="921.4" width="5.0" height="6.8" fill="#050505" opacity="0.60"/><rect x="550.6" y="818.2" width="4.3" height="5.3" fill="#3d3d3d" opacity="0.60"/><rect x="1530.2" y="951.4" width="5.2" height="7.1" fill="#1a1a1a" opacity="0.60"/><rect x="1760.5" y="960.5" width="11.5" height="8.6" fill="#050505" opacity="0.60"/><rect x="980.9" y="821.8" width="8.3" height="4.5" fill="#050505" opacity="0.60"/><rect x="404.2" y="911.1" width="20.8" height="7.8" fill="#0d0d0d" opacity="0.60"/><rect x="585.7" y="833.6" width="13.0" height="6.1" fill="#050505" opacity="0.60"/><rect x="1760.8" y="806.2" width="4.7" height="7.6" fill="#0d0d0d" opacity="0.60"/><rect x="959.7" y="879.9" width="8.4" height="8.9" fill="#474747" opacity="0.60"/><rect x="822.9" y="946.6" width="12.9" height="6.5" fill="#3d3d3d" opacity="0.60"/><rect x="615.4" y="842.5" width="7.9" height="4.8" fill="#474747" opacity="0.60"/><rect x="1317.7" y="973.2" width="6.5" height="1.8" fill="#0d0d0d" opacity="0.60"/><rect x="125.8" y="954.3" width="15.3" height="6.9" fill="#050505" opacity="0.60"/><rect x="242.9" y="952.7" width="19.1" height="9.0" fill="#1a1a1a" opacity="0.60"/><rect x="1100.8" y="810.8" width="16.5" height="4.7" fill="#1a1a1a" opacity="0.60"/><rect x="845.6" y="968.4" width="8.7" height="6.6" fill="#3d3d3d" opacity="0.60"/><rect x="641.7" y="954.8" width="4.6" height="5.0" fill="#0d0d0d" opacity="0.60"/><rect x="103.8" y="884.6" width="10.9" height="7.5" fill="#0d0d0d" opacity="0.60"/><rect x="516.0" y="818.6" width="18.0" height="10.4" fill="#0d0d0d" opacity="0.60"/><rect x="768.4" y="806.9" width="4.8" height="5.7" fill="#0d0d0d" opacity="0.60"/><rect x="242.9" y="949.8" width="21.2" height="4.4" fill="#474747" opacity="0.60"/><rect x="1409.8" y="934.5" width="14.7" height="9.5" fill="#333333" opacity="0.60"/><rect x="351.3" y="913.6" width="17.0" height="3.4" fill="#474747" opacity="0.60"/><rect x="1589.8" y="929.2" width="15.3" height="10.3" fill="#0d0d0d" opacity="0.60"/><rect x="1619.7" y="900.8" width="17.6" height="10.3" fill="#050505" opacity="0.60"/><rect x="1480.5" y="956.6" width="14.5" height="9.1" fill="#474747" opacity="0.60"/><rect x="1174.3" y="810.2" width="5.5" height="8.7" fill="#050505" opacity="0.60"/><rect x="730.2" y="811.7" width="12.1" height="3.2" fill="#3d3d3d" opacity="0.60"/><rect x="1237.3" y="803.6" width="12.8" height="10.2" fill="#474747" opacity="0.60"/><rect x="1657.4" y="818.8" width="20.2" height="7.7" fill="#474747" opacity="0.60"/><rect x="1331.0" y="815.8" width="8.5" height="5.4" fill="#474747" opacity="0.60"/><rect x="1363.7" y="914.8" width="8.2" height="7.1" fill="#333333" opacity="0.60"/><rect x="230.0" y="852.4" width="20.4" height="3.4" fill="#474747" opacity="0.60"/><rect x="1174.1" y="828.4" width="5.4" height="5.3" fill="#474747" opacity="0.60"/><rect x="1257.7" y="826.0" width="15.2" height="7.3" fill="#333333" opacity="0.60"/><rect x="550.3" y="922.1" width="16.1" height="9.1" fill="#1a1a1a" opacity="0.60"/><rect x="1284.4" y="883.1" width="9.1" height="9.9" fill="#3d3d3d" opacity="0.60"/><rect x="434.3" y="964.0" width="21.6" height="3.2" fill="#333333" opacity="0.60"/><rect x="229.5" y="974.1" width="13.1" height="0.9" fill="#333333" opacity="0.60"/><rect x="452.0" y="839.2" width="21.0" height="8.2" fill="#0d0d0d" opacity="0.60"/><rect x="1348.8" y="864.8" width="8.7" height="8.4" fill="#474747" opacity="0.60"/><rect x="950.6" y="924.0" width="20.0" height="5.1" fill="#333333" opacity="0.60"/><rect x="759.3" y="966.4" width="6.9" height="8.6" fill="#333333" opacity="0.60"/><rect x="605.7" y="862.2" width="6.5" height="5.8" fill="#1a1a1a" opacity="0.60"/><rect x="104.9" y="947.3" width="17.5" height="4.1" fill="#0d0d0d" opacity="0.60"/><rect x="1291.3" y="852.9" width="20.2" height="6.3" fill="#333333" opacity="0.60"/><rect x="752.8" y="816.1" width="19.7" height="11.3" fill="#1a1a1a" opacity="0.60"/><rect x="1526.9" y="811.9" width="9.1" height="9.0" fill="#474747" opacity="0.60"/><rect x="1662.6" y="848.7" width="8.5" height="7.6" fill="#0d0d0d" opacity="0.60"/><rect x="1391.7" y="876.6" width="18.1" height="3.3" fill="#474747" opacity="0.60"/><rect x="769.3" y="898.3" width="19.8" height="4.8" fill="#050505" opacity="0.60"/><rect x="184.5" y="880.5" width="17.2" height="9.8" fill="#474747" opacity="0.60"/><rect x="1552.3" y="959.8" width="12.7" height="8.0" fill="#0d0d0d" opacity="0.60"/><rect x="889.6" y="854.2" width="10.2" height="9.7" fill="#474747" opacity="0.60"/><rect x="536.0" y="854.7" width="15.8" height="8.0" fill="#333333" opacity="0.60"/><rect x="301.7" y="815.9" width="15.6" height="7.5" fill="#333333" opacity="0.60"/><rect x="1020.0" y="860.2" width="12.2" height="9.8" fill="#333333" opacity="0.60"/><rect x="334.8" y="818.6" width="7.5" height="6.1" fill="#050505" opacity="0.60"/><rect x="634.6" y="942.2" width="10.6" height="4.8" fill="#050505" opacity="0.60"/><rect x="1352.4" y="874.2" width="11.4" height="7.7" fill="#333333" opacity="0.60"/><rect x="552.8" y="888.7" width="17.5" height="8.2" fill="#1a1a1a" opacity="0.60"/><rect x="312.0" y="911.3" width="13.1" height="10.8" fill="#0d0d0d" opacity="0.60"/><rect x="256.5" y="869.1" width="20.1" height="8.8" fill="#333333" opacity="0.60"/><rect x="1693.2" y="953.1" width="19.3" height="3.2" fill="#050505" opacity="0.60"/><rect x="811.2" y="941.3" width="17.7" height="11.7" fill="#333333" opacity="0.60"/><rect x="102.3" y="962.4" width="11.0" height="10.4" fill="#333333" opacity="0.60"/><rect x="1723.7" y="821.8" width="8.5" height="4.4" fill="#3d3d3d" opacity="0.60"/><rect x="1723.1" y="945.0" width="6.0" height="9.3" fill="#333333" opacity="0.60"/><rect x="243.8" y="803.2" width="18.0" height="4.1" fill="#3d3d3d" opacity="0.60"/><rect x="1636.4" y="855.3" width="15.6" height="4.2" fill="#1a1a1a" opacity="0.60"/><rect x="983.1" y="934.4" width="11.9" height="3.9" fill="#1a1a1a" opacity="0.60"/><rect x="976.8" y="869.8" width="14.5" height="5.0" fill="#3d3d3d" opacity="0.60"/><rect x="103.9" y="974.4" width="13.7" height="0.6" fill="#1a1a1a" opacity="0.60"/><rect x="1177.2" y="884.8" width="19.9" height="5.1" fill="#0d0d0d" opacity="0.60"/><rect x="150.8" y="914.7" width="11.4" height="3.5" fill="#0d0d0d" opacity="0.60"/><rect x="933.2" y="875.2" width="16.1" height="5.3" fill="#474747" opacity="0.60"/><rect x="809.8" y="887.8" width="10.7" height="9.3" fill="#474747" opacity="0.60"/><rect x="803.5" y="837.1" width="16.3" height="10.2" fill="#474747" opacity="0.60"/><rect x="1511.7" y="888.3" width="5.2" height="4.8" fill="#0d0d0d" opacity="0.60"/><rect x="487.0" y="933.8" width="8.0" height="5.7" fill="#3d3d3d" opacity="0.60"/><rect x="928.9" y="841.4" width="7.4" height="6.8" fill="#474747" opacity="0.60"/><rect x="196.1" y="961.6" width="14.7" height="3.5" fill="#050505" opacity="0.60"/><rect x="1726.8" y="811.9" width="6.6" height="3.5" fill="#333333" opacity="0.60"/><rect x="852.0" y="857.0" width="16.8" height="4.0" fill="#050505" opacity="0.60"/><rect x="1655.9" y="834.9" width="9.9" height="11.4" fill="#474747" opacity="0.60"/><rect x="882.0" y="927.8" width="9.6" height="10.6" fill="#1a1a1a" opacity="0.60"/><rect x="840.0" y="816.5" width="6.0" height="3.7" fill="#333333" opacity="0.60"/><rect x="1695.8" y="968.9" width="6.2" height="4.9" fill="#1a1a1a" opacity="0.60"/><rect x="1384.2" y="941.3" width="9.6" height="3.8" fill="#474747" opacity="0.60"/><rect x="891.7" y="961.2" width="10.7" height="4.7" fill="#1a1a1a" opacity="0.60"/><rect x="1331.8" y="911.6" width="12.5" height="5.2" fill="#474747" opacity="0.60"/><rect x="1380.8" y="809.0" width="4.7" height="3.6" fill="#050505" opacity="0.60"/><rect x="530.7" y="957.6" width="17.5" height="6.1" fill="#1a1a1a" opacity="0.60"/><rect x="660.7" y="810.5" width="21.2" height="9.7" fill="#474747" opacity="0.60"/><rect x="629.9" y="803.6" width="9.0" height="9.8" fill="#474747" opacity="0.60"/><rect x="1680.7" y="945.1" width="5.2" height="4.0" fill="#474747" opacity="0.60"/><rect x="1697.9" y="869.5" width="21.2" height="5.3" fill="#333333" opacity="0.60"/><rect x="1461.1" y="888.4" width="6.4" height="3.1" fill="#474747" opacity="0.60"/><rect x="607.9" y="829.0" width="16.5" height="5.1" fill="#1a1a1a" opacity="0.60"/><rect x="870.6" y="905.5" width="18.1" height="7.6" fill="#333333" opacity="0.60"/><rect x="1357.8" y="814.1" width="8.5" height="3.3" fill="#3d3d3d" opacity="0.60"/><rect x="1010.4" y="876.4" width="6.9" height="3.9" fill="#050505" opacity="0.60"/><rect x="543.8" y="819.6" width="5.5" height="7.5" fill="#474747" opacity="0.60"/><rect x="1723.5" y="825.9" width="7.1" height="7.1" fill="#474747" opacity="0.60"/><rect x="493.9" y="936.1" width="13.7" height="9.8" fill="#1a1a1a" opacity="0.60"/><rect x="592.0" y="867.2" width="14.2" height="9.6" fill="#0d0d0d" opacity="0.60"/><rect x="834.9" y="843.5" width="7.3" height="5.5" fill="#3d3d3d" opacity="0.60"/><rect x="416.0" y="846.3" width="5.2" height="5.2" fill="#3d3d3d" opacity="0.60"/><rect x="487.9" y="915.4" width="18.6" height="11.9" fill="#050505" opacity="0.60"/><rect x="109.5" y="842.8" width="19.9" height="7.0" fill="#1a1a1a" opacity="0.60"/><rect x="169.3" y="823.5" width="9.3" height="4.7" fill="#3d3d3d" opacity="0.60"/><rect x="425.9" y="891.2" width="5.4" height="4.6" fill="#3d3d3d" opacity="0.60"/><rect x="535.6" y="965.7" width="18.0" height="4.0" fill="#3d3d3d" opacity="0.60"/><rect x="1285.8" y="809.4" width="10.3" height="6.1" fill="#050505" opacity="0.60"/><rect x="442.2" y="906.1" width="8.6" height="8.9" fill="#0d0d0d" opacity="0.60"/><rect x="1461.0" y="873.3" width="18.7" height="6.3" fill="#3d3d3d" opacity="0.60"/><rect x="622.7" y="939.8" width="7.7" height="7.9" fill="#050505" opacity="0.60"/><rect x="782.8" y="917.2" width="18.3" height="4.4" fill="#3d3d3d" opacity="0.60"/><rect x="254.0" y="922.6" width="6.9" height="6.7" fill="#1a1a1a" opacity="0.60"/><rect x="1215.9" y="811.8" width="11.5" height="9.7" fill="#1a1a1a" opacity="0.60"/><rect x="792.7" y="934.9" width="4.3" height="10.2" fill="#474747" opacity="0.60"/><rect x="430.9" y="838.0" width="17.1" height="3.1" fill="#0d0d0d" opacity="0.60"/><rect x="808.8" y="872.9" width="18.8" height="10.9" fill="#333333" opacity="0.60"/><rect x="1391.5" y="811.9" width="6.3" height="4.3" fill="#333333" opacity="0.60"/><rect x="250.5" y="866.8" width="15.2" height="7.5" fill="#0d0d0d" opacity="0.60"/><rect x="682.4" y="832.5" width="6.9" height="3.6" fill="#333333" opacity="0.60"/><rect x="920.2" y="969.3" width="18.5" height="4.8" fill="#0d0d0d" opacity="0.60"/><rect x="1498.6" y="960.0" width="4.8" height="5.8" fill="#3d3d3d" opacity="0.60"/><rect x="1646.8" y="958.5" width="11.0" height="8.6" fill="#0d0d0d" opacity="0.60"/><rect x="1170.1" y="909.8" width="19.4" height="8.5" fill="#0d0d0d" opacity="0.60"/><rect x="1485.1" y="840.5" width="7.3" height="6.6" fill="#3d3d3d" opacity="0.60"/><rect x="363.0" y="828.7" width="10.5" height="11.7" fill="#0d0d0d" opacity="0.60"/><rect x="170.6" y="933.3" width="14.1" height="3.3" fill="#1a1a1a" opacity="0.60"/><rect x="298.4" y="897.6" width="14.8" height="8.6" fill="#1a1a1a" opacity="0.60"/><rect x="1184.6" y="845.9" width="9.5" height="6.5" fill="#1a1a1a" opacity="0.60"/><rect x="847.2" y="807.0" width="11.9" height="8.6" fill="#333333" opacity="0.60"/><rect x="878.1" y="909.4" width="12.0" height="10.4" fill="#0d0d0d" opacity="0.60"/><rect x="1454.0" y="814.5" width="11.2" height="6.2" fill="#1a1a1a" opacity="0.60"/><rect x="255.0" y="890.7" width="12.0" height="3.4" fill="#474747" opacity="0.60"/><rect x="319.3" y="857.0" width="20.6" height="9.5" fill="#050505" opacity="0.60"/><rect x="192.5" y="868.0" width="13.1" height="11.6" fill="#0d0d0d" opacity="0.60"/><rect x="145.1" y="908.6" width="5.2" height="9.2" fill="#050505" opacity="0.60"/><rect x="425.1" y="887.6" width="21.7" height="11.6" fill="#0d0d0d" opacity="0.60"/><rect x="1246.5" y="841.0" width="17.0" height="10.5" fill="#3d3d3d" opacity="0.60"/><rect x="1363.3" y="957.2" width="6.9" height="5.5" fill="#333333" opacity="0.60"/><rect x="341.5" y="961.2" width="13.0" height="4.9" fill="#1a1a1a" opacity="0.60"/><rect x="1129.3" y="867.0" width="8.3" height="4.8" fill="#333333" opacity="0.60"/><rect x="370.9" y="919.9" width="20.9" height="11.1" fill="#0d0d0d" opacity="0.60"/><rect x="1423.3" y="935.1" width="8.8" height="3.4" fill="#1a1a1a" opacity="0.60"/><rect x="1713.5" y="892.7" width="12.2" height="9.2" fill="#050505" opacity="0.60"/><rect x="522.4" y="950.3" width="13.6" height="9.6" fill="#1a1a1a" opacity="0.60"/><rect x="543.6" y="902.3" width="21.8" height="6.2" fill="#050505" opacity="0.60"/><rect x="839.7" y="930.9" width="7.2" height="3.4" fill="#3d3d3d" opacity="0.60"/><rect x="525.1" y="972.3" width="15.5" height="2.7" fill="#474747" opacity="0.60"/><rect x="1596.1" y="931.5" width="17.2" height="5.0" fill="#1a1a1a" opacity="0.60"/><rect x="1129.6" y="891.2" width="11.8" height="11.1" fill="#0d0d0d" opacity="0.60"/><rect x="916.6" y="810.8" width="15.0" height="3.5" fill="#3d3d3d" opacity="0.60"/><rect x="694.1" y="864.4" width="5.9" height="5.0" fill="#3d3d3d" opacity="0.60"/><rect x="604.3" y="866.0" width="6.4" height="10.5" fill="#0d0d0d" opacity="0.60"/><rect x="326.8" y="844.9" width="20.9" height="4.3" fill="#050505" opacity="0.60"/><rect x="208.2" y="917.5" width="6.6" height="5.4" fill="#1a1a1a" opacity="0.60"/><rect x="1715.2" y="944.2" width="5.0" height="11.0" fill="#3d3d3d" opacity="0.60"/><rect x="1178.9" y="964.2" width="12.0" height="9.6" fill="#0d0d0d" opacity="0.60"/><rect x="377.4" y="813.6" width="4.0" height="3.2" fill="#0d0d0d" opacity="0.60"/><rect x="498.4" y="937.0" width="5.1" height="3.1" fill="#3d3d3d" opacity="0.60"/><rect x="1197.5" y="874.1" width="7.6" height="7.7" fill="#474747" opacity="0.60"/><rect x="947.6" y="942.9" width="15.5" height="4.6" fill="#1a1a1a" opacity="0.60"/><rect x="208.4" y="974.0" width="15.3" height="1.0" fill="#333333" opacity="0.60"/><rect x="1295.3" y="948.2" width="4.1" height="9.7" fill="#333333" opacity="0.60"/><rect x="236.2" y="833.2" width="15.8" height="12.0" fill="#1a1a1a" opacity="0.60"/><rect x="489.5" y="860.7" width="4.7" height="9.7" fill="#474747" opacity="0.60"/><rect x="1674.7" y="812.0" width="8.7" height="8.7" fill="#474747" opacity="0.60"/><rect x="829.3" y="893.0" width="18.2" height="5.4" fill="#474747" opacity="0.60"/><rect x="1650.9" y="817.7" width="20.1" height="7.6" fill="#0d0d0d" opacity="0.60"/><rect x="536.3" y="930.9" width="8.2" height="11.5" fill="#474747" opacity="0.60"/><rect x="1628.2" y="869.9" width="7.5" height="8.4" fill="#333333" opacity="0.60"/><rect x="1615.8" y="922.2" width="15.4" height="9.0" fill="#3d3d3d" opacity="0.60"/><rect x="885.1" y="923.0" width="19.1" height="10.7" fill="#333333" opacity="0.60"/><rect x="1696.1" y="955.2" width="8.2" height="10.1" fill="#333333" opacity="0.60"/><rect x="1140.5" y="959.7" width="5.4" height="4.3" fill="#050505" opacity="0.60"/><rect x="288.6" y="830.8" width="15.2" height="11.8" fill="#474747" opacity="0.60"/><rect x="149.9" y="922.1" width="4.7" height="8.7" fill="#474747" opacity="0.60"/><rect x="215.1" y="950.3" width="4.8" height="9.9" fill="#0d0d0d" opacity="0.60"/><rect x="1465.7" y="956.3" width="18.8" height="3.6" fill="#474747" opacity="0.60"/><rect x="1677.1" y="838.4" width="5.9" height="4.0" fill="#050505" opacity="0.60"/><rect x="1685.4" y="932.6" width="20.4" height="3.8" fill="#474747" opacity="0.60"/><rect x="1156.6" y="825.8" width="12.6" height="10.1" fill="#474747" opacity="0.60"/><rect x="443.9" y="875.9" width="9.7" height="3.2" fill="#1a1a1a" opacity="0.60"/><rect x="1653.4" y="933.7" width="4.9" height="11.2" fill="#3d3d3d" opacity="0.60"/><rect x="942.2" y="909.3" width="19.3" height="3.3" fill="#333333" opacity="0.60"/><rect x="154.1" y="819.9" width="13.3" height="7.2" fill="#050505" opacity="0.60"/><rect x="999.2" y="951.3" width="7.9" height="3.8" fill="#1a1a1a" opacity="0.60"/><rect x="386.2" y="837.8" width="4.0" height="9.9" fill="#050505" opacity="0.60"/><rect x="109.3" y="887.5" width="12.8" height="10.2" fill="#0d0d0d" opacity="0.60"/><rect x="1715.2" y="967.6" width="14.7" height="7.4" fill="#3d3d3d" opacity="0.60"/><rect x="1676.4" y="839.9" width="9.1" height="9.3" fill="#333333" opacity="0.60"/><rect x="378.5" y="934.9" width="20.9" height="7.4" fill="#474747" opacity="0.60"/><rect x="1038.2" y="859.2" width="5.9" height="3.9" fill="#333333" opacity="0.60"/><rect x="1589.6" y="875.6" width="17.4" height="8.8" fill="#1a1a1a" opacity="0.60"/><rect x="445.8" y="958.0" width="8.7" height="7.5" fill="#333333" opacity="0.60"/><rect x="1740.7" y="965.4" width="15.4" height="4.1" fill="#3d3d3d" opacity="0.60"/><rect x="1360.5" y="914.2" width="17.6" height="6.1" fill="#1a1a1a" opacity="0.60"/><rect x="972.2" y="880.5" width="19.6" height="8.0" fill="#1a1a1a" opacity="0.60"/><rect x="384.8" y="936.0" width="11.9" height="8.2" fill="#0d0d0d" opacity="0.60"/><rect x="659.2" y="922.8" width="15.6" height="7.6" fill="#1a1a1a" opacity="0.60"/><rect x="604.9" y="948.1" width="16.7" height="4.4" fill="#0d0d0d" opacity="0.60"/><rect x="1727.9" y="906.7" width="17.0" height="6.1" fill="#0d0d0d" opacity="0.60"/><rect x="649.2" y="970.7" width="7.4" height="4.3" fill="#050505" opacity="0.60"/><rect x="376.6" y="836.6" width="15.8" height="4.4" fill="#0d0d0d" opacity="0.60"/><rect x="1427.9" y="877.8" width="17.2" height="4.8" fill="#474747" opacity="0.60"/><rect x="1622.2" y="955.3" width="9.1" height="7.2" fill="#050505" opacity="0.60"/><rect x="767.6" y="922.3" width="18.2" height="7.5" fill="#474747" opacity="0.60"/><rect x="596.1" y="847.2" width="4.4" height="9.6" fill="#050505" opacity="0.60"/><rect x="1337.9" y="877.0" width="20.3" height="8.2" fill="#474747" opacity="0.60"/><rect x="1181.5" y="917.9" width="19.2" height="8.9" fill="#474747" opacity="0.60"/><rect x="1269.7" y="919.9" width="19.3" height="8.8" fill="#333333" opacity="0.60"/><rect x="823.5" y="923.5" width="8.7" height="11.1" fill="#0d0d0d" opacity="0.60"/><rect x="1407.0" y="911.3" width="16.8" height="5.3" fill="#333333" opacity="0.60"/><rect x="907.2" y="950.7" width="4.4" height="7.7" fill="#474747" opacity="0.60"/><rect x="1653.6" y="915.6" width="7.3" height="10.0" fill="#333333" opacity="0.60"/><rect x="1489.6" y="821.3" width="20.3" height="5.3" fill="#0d0d0d" opacity="0.60"/><rect x="370.3" y="964.8" width="18.1" height="7.7" fill="#050505" opacity="0.60"/><rect x="1515.1" y="838.3" width="12.2" height="7.3" fill="#050505" opacity="0.60"/><rect x="1168.3" y="892.7" width="18.9" height="6.7" fill="#333333" opacity="0.60"/><rect x="452.4" y="870.5" width="16.3" height="9.9" fill="#050505" opacity="0.60"/><rect x="1318.1" y="912.7" width="15.1" height="5.3" fill="#333333" opacity="0.60"/><rect x="768.7" y="875.0" width="4.2" height="6.8" fill="#474747" opacity="0.60"/><rect x="1227.7" y="821.8" width="14.4" height="5.7" fill="#333333" opacity="0.60"/><rect x="1669.8" y="840.7" width="13.5" height="10.2" fill="#333333" opacity="0.60"/><rect x="872.8" y="962.9" width="7.0" height="3.6" fill="#474747" opacity="0.60"/><rect x="424.2" y="927.0" width="15.6" height="10.3" fill="#0d0d0d" opacity="0.60"/><rect x="691.0" y="943.8" width="15.5" height="10.3" fill="#333333" opacity="0.60"/><rect x="1763.6" y="914.7" width="12.4" height="10.0" fill="#333333" opacity="0.60"/><rect x="693.7" y="849.0" width="19.3" height="6.4" fill="#1a1a1a" opacity="0.60"/><rect x="1741.5" y="885.8" width="16.2" height="10.2" fill="#1a1a1a" opacity="0.60"/><rect x="699.1" y="858.1" width="15.8" height="7.4" fill="#3d3d3d" opacity="0.60"/><rect x="1165.0" y="865.3" width="15.9" height="11.4" fill="#333333" opacity="0.60"/><rect x="197.2" y="958.8" width="18.9" height="10.1" fill="#0d0d0d" opacity="0.60"/><rect x="987.1" y="903.2" width="10.2" height="8.9" fill="#0d0d0d" opacity="0.60"/><rect x="1689.5" y="846.0" width="15.8" height="3.9" fill="#0d0d0d" opacity="0.60"/><rect x="1526.8" y="880.7" width="7.3" height="10.1" fill="#0d0d0d" opacity="0.60"/><rect x="1610.0" y="831.9" width="18.3" height="11.0" fill="#3d3d3d" opacity="0.60"/><rect x="1731.9" y="958.1" width="5.6" height="7.9" fill="#474747" opacity="0.60"/><rect x="1501.1" y="922.2" width="7.6" height="7.8" fill="#474747" opacity="0.60"/><rect x="1501.9" y="823.1" width="16.1" height="4.1" fill="#333333" opacity="0.60"/><rect x="492.6" y="887.8" width="6.5" height="3.5" fill="#333333" opacity="0.60"/><rect x="1612.3" y="845.4" width="16.6" height="4.5" fill="#3d3d3d" opacity="0.60"/><rect x="1541.3" y="947.6" width="4.1" height="7.2" fill="#3d3d3d" opacity="0.60"/><rect x="932.0" y="883.1" width="9.3" height="6.8" fill="#474747" opacity="0.60"/><rect x="227.8" y="912.4" width="15.5" height="3.3" fill="#3d3d3d" opacity="0.60"/><rect x="178.5" y="974.8" width="17.3" height="0.2" fill="#050505" opacity="0.60"/><rect x="953.7" y="957.4" width="12.7" height="3.3" fill="#474747" opacity="0.60"/><rect x="795.2" y="819.2" width="6.3" height="8.9" fill="#1a1a1a" opacity="0.60"/><rect x="893.5" y="935.5" width="13.5" height="4.9" fill="#333333" opacity="0.60"/><rect x="672.4" y="812.1" width="8.5" height="5.6" fill="#1a1a1a" opacity="0.60"/><rect x="1482.7" y="889.6" width="11.3" height="5.4" fill="#3d3d3d" opacity="0.60"/><rect x="677.1" y="887.7" width="7.7" height="4.1" fill="#0d0d0d" opacity="0.60"/><rect x="630.9" y="903.9" width="9.4" height="8.7" fill="#050505" opacity="0.60"/><rect x="767.3" y="872.8" width="14.0" height="8.2" fill="#333333" opacity="0.60"/><rect x="603.1" y="835.7" width="4.1" height="11.3" fill="#3d3d3d" opacity="0.60"/><rect x="1379.7" y="889.1" width="5.1" height="7.9" fill="#333333" opacity="0.60"/><rect x="1130.7" y="922.8" width="15.3" height="8.4" fill="#474747" opacity="0.60"/><rect x="240.4" y="912.0" width="4.7" height="8.6" fill="#0d0d0d" opacity="0.60"/><rect x="271.1" y="809.4" width="7.3" height="10.0" fill="#474747" opacity="0.60"/><rect x="124.4" y="826.9" width="19.7" height="5.8" fill="#474747" opacity="0.60"/><rect x="532.3" y="875.5" width="9.4" height="5.9" fill="#333333" opacity="0.60"/><rect x="1046.6" y="960.2" width="14.4" height="7.5" fill="#3d3d3d" opacity="0.60"/><rect x="167.7" y="942.4" width="6.1" height="8.2" fill="#333333" opacity="0.60"/><rect x="846.7" y="869.6" width="4.3" height="8.3" fill="#474747" opacity="0.60"/><rect x="1737.9" y="873.9" width="12.6" height="3.9" fill="#474747" opacity="0.60"/><rect x="889.6" y="910.8" width="20.1" height="6.8" fill="#050505" opacity="0.60"/><rect x="1242.5" y="969.2" width="6.2" height="3.8" fill="#050505" opacity="0.60"/><rect x="317.1" y="926.7" width="4.3" height="5.2" fill="#474747" opacity="0.60"/><rect x="1343.3" y="865.9" width="20.6" height="9.7" fill="#474747" opacity="0.60"/><rect x="1529.0" y="817.5" width="17.1" height="8.7" fill="#474747" opacity="0.60"/><rect x="932.8" y="956.1" width="16.1" height="11.2" fill="#050505" opacity="0.60"/><rect x="1298.3" y="805.5" width="4.2" height="8.9" fill="#3d3d3d" opacity="0.60"/><rect x="234.9" y="928.5" width="9.6" height="4.5" fill="#333333" opacity="0.60"/><rect x="1117.7" y="966.2" width="9.7" height="8.8" fill="#333333" opacity="0.60"/><rect x="1231.0" y="940.1" width="6.6" height="6.3" fill="#474747" opacity="0.60"/><rect x="375.6" y="885.0" width="18.4" height="10.0" fill="#333333" opacity="0.60"/><rect x="1678.1" y="900.5" width="18.1" height="5.6" fill="#050505" opacity="0.60"/><rect x="1139.2" y="940.9" width="15.7" height="8.4" fill="#3d3d3d" opacity="0.60"/><rect x="1312.5" y="829.0" width="4.3" height="10.5" fill="#3d3d3d" opacity="0.60"/><rect x="816.8" y="867.8" width="20.0" height="9.2" fill="#3d3d3d" opacity="0.60"/><rect x="1388.8" y="880.6" width="8.2" height="9.2" fill="#1a1a1a" opacity="0.60"/><rect x="540.8" y="903.9" width="11.6" height="10.3" fill="#050505" opacity="0.60"/><rect x="583.3" y="956.2" width="6.5" height="11.9" fill="#0d0d0d" opacity="0.60"/><rect x="558.8" y="941.8" width="19.3" height="9.2" fill="#333333" opacity="0.60"/><rect x="680.6" y="898.2" width="5.5" height="10.2" fill="#0d0d0d" opacity="0.60"/><rect x="1415.9" y="972.0" width="17.0" height="3.0" fill="#050505" opacity="0.60"/><rect x="1232.3" y="838.5" width="12.4" height="5.3" fill="#050505" opacity="0.60"/><rect x="1422.5" y="818.1" width="12.3" height="10.3" fill="#050505" opacity="0.60"/><rect x="490.4" y="957.3" width="14.4" height="11.0" fill="#3d3d3d" opacity="0.60"/><rect x="637.4" y="837.7" width="13.1" height="4.9" fill="#050505" opacity="0.60"/><rect x="403.4" y="865.4" width="16.6" height="8.1" fill="#333333" opacity="0.60"/><rect x="1402.4" y="845.4" width="19.4" height="11.3" fill="#333333" opacity="0.60"/><rect x="725.9" y="911.8" width="5.9" height="10.1" fill="#0d0d0d" opacity="0.60"/><rect x="628.7" y="851.3" width="4.5" height="8.5" fill="#050505" opacity="0.60"/><rect x="158.0" y="952.0" width="21.8" height="7.4" fill="#3d3d3d" opacity="0.60"/><rect x="458.3" y="851.1" width="20.7" height="3.9" fill="#333333" opacity="0.60"/><rect x="1381.8" y="968.7" width="18.7" height="5.3" fill="#050505" opacity="0.60"/><rect x="667.2" y="868.1" width="21.9" height="3.2" fill="#050505" opacity="0.60"/><rect x="1031.7" y="881.8" width="19.7" height="11.5" fill="#050505" opacity="0.60"/><rect x="1541.4" y="961.6" width="15.5" height="9.4" fill="#050505" opacity="0.60"/><rect x="531.0" y="913.2" width="14.2" height="11.6" fill="#474747" opacity="0.60"/><rect x="946.8" y="949.1" width="7.3" height="6.3" fill="#0d0d0d" opacity="0.60"/><rect x="1756.2" y="809.6" width="8.0" height="5.3" fill="#1a1a1a" opacity="0.60"/><rect x="200.9" y="807.8" width="14.0" height="11.3" fill="#1a1a1a" opacity="0.60"/><rect x="1413.7" y="914.2" width="16.8" height="11.9" fill="#050505" opacity="0.60"/><rect x="270.6" y="804.0" width="9.7" height="4.8" fill="#474747" opacity="0.60"/><rect x="600.4" y="933.4" width="14.6" height="3.9" fill="#1a1a1a" opacity="0.60"/><rect x="722.0" y="867.5" width="11.0" height="6.4" fill="#333333" opacity="0.60"/><rect x="499.7" y="919.6" width="6.6" height="3.1" fill="#474747" opacity="0.60"/><rect x="1624.2" y="830.0" width="18.4" height="10.5" fill="#050505" opacity="0.60"/><rect x="1659.9" y="955.9" width="19.6" height="4.3" fill="#333333" opacity="0.60"/><rect x="1699.9" y="869.2" width="20.7" height="3.2" fill="#050505" opacity="0.60"/><rect x="856.5" y="944.6" width="10.1" height="7.3" fill="#474747" opacity="0.60"/><rect x="712.5" y="929.6" width="10.0" height="4.6" fill="#333333" opacity="0.60"/><rect x="1025.0" y="952.8" width="6.6" height="5.4" fill="#333333" opacity="0.60"/><rect x="513.6" y="901.2" width="4.5" height="5.7" fill="#0d0d0d" opacity="0.60"/><rect x="536.8" y="881.5" width="6.0" height="7.3" fill="#0d0d0d" opacity="0.60"/><rect x="1734.3" y="956.9" width="5.0" height="9.0" fill="#0d0d0d" opacity="0.60"/><rect x="1036.0" y="823.5" width="19.0" height="9.8" fill="#1a1a1a" opacity="0.60"/><rect x="822.7" y="844.1" width="8.7" height="5.1" fill="#333333" opacity="0.60"/><rect x="584.8" y="812.9" width="20.1" height="9.5" fill="#1a1a1a" opacity="0.60"/><rect x="342.8" y="879.0" width="15.5" height="7.6" fill="#3d3d3d" opacity="0.60"/><rect x="335.8" y="946.1" width="4.0" height="7.7" fill="#0d0d0d" opacity="0.60"/><rect x="702.6" y="873.3" width="4.7" height="5.5" fill="#0d0d0d" opacity="0.60"/><rect x="332.3" y="935.5" width="7.2" height="9.4" fill="#0d0d0d" opacity="0.60"/><rect x="1103.9" y="956.0" width="18.9" height="9.6" fill="#1a1a1a" opacity="0.60"/><rect x="394.4" y="918.2" width="6.5" height="8.7" fill="#0d0d0d" opacity="0.60"/><rect x="1074.3" y="814.3" width="7.6" height="9.6" fill="#333333" opacity="0.60"/><rect x="1504.9" y="892.2" width="20.5" height="6.1" fill="#1a1a1a" opacity="0.60"/><rect x="1506.3" y="887.8" width="19.6" height="3.1" fill="#333333" opacity="0.60"/><rect x="324.3" y="845.7" width="16.0" height="8.1" fill="#1a1a1a" opacity="0.60"/><rect x="163.2" y="901.9" width="16.6" height="10.7" fill="#1a1a1a" opacity="0.60"/><rect x="969.1" y="891.7" width="12.0" height="4.1" fill="#474747" opacity="0.60"/><rect x="510.2" y="960.0" width="18.9" height="10.0" fill="#333333" opacity="0.60"/><rect x="1063.3" y="853.1" width="20.2" height="4.0" fill="#474747" opacity="0.60"/><rect x="927.3" y="894.2" width="13.2" height="7.8" fill="#050505" opacity="0.60"/><rect x="508.2" y="909.5" width="5.6" height="4.5" fill="#1a1a1a" opacity="0.60"/><rect x="519.8" y="808.2" width="18.7" height="3.9" fill="#474747" opacity="0.60"/><rect x="1334.2" y="947.0" width="8.7" height="8.7" fill="#333333" opacity="0.60"/><rect x="974.2" y="820.7" width="16.6" height="10.8" fill="#474747" opacity="0.60"/><rect x="400.5" y="883.0" width="8.9" height="8.3" fill="#1a1a1a" opacity="0.60"/><rect x="285.5" y="955.1" width="6.2" height="7.9" fill="#0d0d0d" opacity="0.60"/><rect x="102.0" y="808.0" width="1675.0" height="4.0" fill="#383838" opacity="0.75"/><rect x="102.0" y="864.0" width="1675.0" height="4.0" fill="#3d3d3d" opacity="0.80"/><rect x="102.0" y="921.0" width="1675.0" height="4.0" fill="#3b3b3b" opacity="0.75"/><rect x="913.0" y="801.0" width="30.0" height="6.0" fill="#080808" opacity="0.60"/><rect x="973.0" y="801.0" width="47.0" height="6.0" fill="#080808" opacity="0.60"/><rect x="1136.0" y="801.0" width="22.0" height="6.0" fill="#080808" opacity="0.60"/><rect x="1180.0" y="801.0" width="70.0" height="6.0" fill="#080808" opacity="0.60"/><rect x="1290.0" y="801.0" width="10.0" height="6.0" fill="#080808" opacity="0.60"/><rect x="1520.0" y="801.0" width="10.0" height="6.0" fill="#080808" opacity="0.60"/><rect x="1600.0" y="801.0" width="40.0" height="6.0" fill="#080808" opacity="0.60"/><rect x="1700.0" y="801.0" width="20.0" height="6.0" fill="#080808" opacity="0.60"/><rect x="1745.0" y="801.0" width="25.0" height="6.0" fill="#080808" opacity="0.60"/><rect x="1603.0" y="853.0" width="61.0" height="10.0" fill="#454545" opacity="0.70"/><rect x="1287.0" y="833.0" width="26.0" height="9.0" fill="#4c4c4c" opacity="0.70"/><rect x="1460.0" y="812.0" width="3.0" height="52.0" fill="#666666" opacity="0.70"/><rect x="405.0" y="813.0" width="48.0" height="37.0" fill="#0d0d0d" opacity="0.70"/><rect x="403.0" y="808.0" width="49.0" height="14.0" fill="#000000" opacity="0.70"/><rect x="131.0" y="812.0" width="20.0" height="39.0" fill="#000000" opacity="0.88"/><rect x="205.0" y="813.0" width="48.0" height="50.0" fill="#000000" opacity="0.88"/><rect x="255.0" y="813.0" width="54.0" height="50.0" fill="#000000" opacity="0.88"/><rect x="320.0" y="813.0" width="47.0" height="50.0" fill="#000000" opacity="0.88"/><rect x="490.0" y="813.0" width="32.0" height="50.0" fill="#000000" opacity="0.88"/><rect x="548.0" y="813.0" width="34.0" height="50.0" fill="#000000" opacity="0.88"/><rect x="598.0" y="813.0" width="27.0" height="50.0" fill="#000000" opacity="0.88"/><rect x="648.0" y="813.0" width="31.0" height="50.0" fill="#000000" opacity="0.88"/><rect x="703.0" y="813.0" width="47.0" height="50.0" fill="#000000" opacity="0.88"/><rect x="763.0" y="813.0" width="64.0" height="50.0" fill="#000000" opacity="0.88"/><rect x="839.0" y="813.0" width="48.0" height="50.0" fill="#000000" opacity="0.88"/><rect x="912.0" y="813.0" width="33.0" height="50.0" fill="#000000" opacity="0.88"/><rect x="973.0" y="813.0" width="45.0" height="50.0" fill="#000000" opacity="0.88"/><rect x="1045.0" y="813.0" width="32.0" height="50.0" fill="#000000" opacity="0.88"/><rect x="1198.0" y="812.0" width="42.0" height="21.0" fill="#000000" opacity="0.88"/><rect x="1383.0" y="833.0" width="16.0" height="30.0" fill="#000000" opacity="0.88"/><rect x="1409.0" y="812.0" width="27.0" height="21.0" fill="#000000" opacity="0.88"/><rect x="1603.0" y="812.0" width="31.0" height="23.0" fill="#000000" opacity="0.88"/><rect x="1698.0" y="833.0" width="17.0" height="30.0" fill="#000000" opacity="0.88"/><rect x="1561.0" y="851.0" width="41.0" height="12.0" fill="#000000" opacity="0.88"/><rect x="1642.0" y="810.0" width="22.0" height="24.0" fill="#000000" opacity="0.88"/><rect x="205.0" y="869.0" width="48.0" height="51.0" fill="#000000" opacity="0.88"/><rect x="255.0" y="869.0" width="54.0" height="51.0" fill="#000000" opacity="0.88"/><rect x="320.0" y="869.0" width="47.0" height="51.0" fill="#000000" opacity="0.88"/><rect x="490.0" y="869.0" width="32.0" height="51.0" fill="#000000" opacity="0.88"/><rect x="548.0" y="869.0" width="34.0" height="51.0" fill="#000000" opacity="0.88"/><rect x="600.0" y="869.0" width="25.0" height="51.0" fill="#000000" opacity="0.88"/><rect x="648.0" y="869.0" width="31.0" height="51.0" fill="#000000" opacity="0.88"/><rect x="703.0" y="869.0" width="47.0" height="51.0" fill="#000000" opacity="0.88"/><rect x="763.0" y="869.0" width="64.0" height="51.0" fill="#000000" opacity="0.88"/><rect x="839.0" y="869.0" width="48.0" height="51.0" fill="#000000" opacity="0.88"/><rect x="912.0" y="869.0" width="33.0" height="51.0" fill="#000000" opacity="0.88"/><rect x="973.0" y="880.0" width="45.0" height="40.0" fill="#000000" opacity="0.88"/><rect x="1045.0" y="869.0" width="32.0" height="51.0" fill="#000000" opacity="0.88"/><rect x="1198.0" y="868.0" width="42.0" height="43.0" fill="#000000" opacity="0.88"/><rect x="1383.0" y="869.0" width="16.0" height="51.0" fill="#000000" opacity="0.88"/><rect x="1409.0" y="868.0" width="27.0" height="29.0" fill="#000000" opacity="0.88"/><rect x="1603.0" y="866.0" width="31.0" height="47.0" fill="#000000" opacity="0.88"/><rect x="133.0" y="836.0" width="16.0" height="4.0" fill="#212121" opacity="0.60"/><rect x="133.0" y="842.0" width="16.0" height="4.0" fill="#242424" opacity="0.60"/><rect x="207.0" y="837.0" width="44.0" height="4.0" fill="#212121" opacity="0.60"/><rect x="207.0" y="854.0" width="44.0" height="4.0" fill="#242424" opacity="0.60"/><rect x="257.0" y="837.0" width="50.0" height="4.0" fill="#212121" opacity="0.60"/><rect x="257.0" y="854.0" width="50.0" height="4.0" fill="#242424" opacity="0.60"/><rect x="322.0" y="837.0" width="43.0" height="4.0" fill="#212121" opacity="0.60"/><rect x="322.0" y="854.0" width="43.0" height="4.0" fill="#242424" opacity="0.60"/><rect x="492.0" y="837.0" width="28.0" height="4.0" fill="#212121" opacity="0.60"/><rect x="492.0" y="854.0" width="28.0" height="4.0" fill="#242424" opacity="0.60"/><rect x="550.0" y="837.0" width="30.0" height="4.0" fill="#212121" opacity="0.60"/><rect x="550.0" y="854.0" width="30.0" height="4.0" fill="#242424" opacity="0.60"/><rect x="600.0" y="837.0" width="23.0" height="4.0" fill="#212121" opacity="0.60"/><rect x="600.0" y="854.0" width="23.0" height="4.0" fill="#242424" opacity="0.60"/><rect x="650.0" y="837.0" width="27.0" height="4.0" fill="#212121" opacity="0.60"/><rect x="650.0" y="854.0" width="27.0" height="4.0" fill="#242424" opacity="0.60"/><rect x="705.0" y="837.0" width="43.0" height="4.0" fill="#212121" opacity="0.60"/><rect x="705.0" y="854.0" width="43.0" height="4.0" fill="#242424" opacity="0.60"/><rect x="765.0" y="837.0" width="60.0" height="4.0" fill="#212121" opacity="0.60"/><rect x="765.0" y="854.0" width="60.0" height="4.0" fill="#242424" opacity="0.60"/><rect x="841.0" y="837.0" width="44.0" height="4.0" fill="#212121" opacity="0.60"/><rect x="841.0" y="854.0" width="44.0" height="4.0" fill="#242424" opacity="0.60"/><rect x="914.0" y="837.0" width="29.0" height="4.0" fill="#212121" opacity="0.60"/><rect x="914.0" y="854.0" width="29.0" height="4.0" fill="#242424" opacity="0.60"/><rect x="975.0" y="837.0" width="41.0" height="4.0" fill="#212121" opacity="0.60"/><rect x="975.0" y="854.0" width="41.0" height="4.0" fill="#242424" opacity="0.60"/><rect x="1047.0" y="837.0" width="28.0" height="4.0" fill="#212121" opacity="0.60"/><rect x="1047.0" y="854.0" width="28.0" height="4.0" fill="#242424" opacity="0.60"/><rect x="207.0" y="897.0" width="44.0" height="3.0" fill="#1f1f1f" opacity="0.55"/><rect x="257.0" y="897.0" width="50.0" height="3.0" fill="#1f1f1f" opacity="0.55"/><rect x="322.0" y="897.0" width="43.0" height="3.0" fill="#1f1f1f" opacity="0.55"/><rect x="492.0" y="897.0" width="28.0" height="3.0" fill="#1f1f1f" opacity="0.55"/><rect x="550.0" y="897.0" width="30.0" height="3.0" fill="#1f1f1f" opacity="0.55"/><rect x="602.0" y="897.0" width="21.0" height="3.0" fill="#1f1f1f" opacity="0.55"/><rect x="650.0" y="897.0" width="27.0" height="3.0" fill="#1f1f1f" opacity="0.55"/><rect x="705.0" y="897.0" width="43.0" height="3.0" fill="#1f1f1f" opacity="0.55"/><rect x="765.0" y="897.0" width="60.0" height="3.0" fill="#1f1f1f" opacity="0.55"/><rect x="841.0" y="897.0" width="44.0" height="3.0" fill="#1f1f1f" opacity="0.55"/><rect x="914.0" y="897.0" width="29.0" height="3.0" fill="#1f1f1f" opacity="0.55"/><rect x="975.0" y="908.0" width="41.0" height="3.0" fill="#1f1f1f" opacity="0.55"/><rect x="1047.0" y="897.0" width="28.0" height="3.0" fill="#1f1f1f" opacity="0.55"/><rect x="1200.0" y="896.0" width="38.0" height="3.0" fill="#1f1f1f" opacity="0.55"/><rect x="1385.0" y="897.0" width="12.0" height="3.0" fill="#1f1f1f" opacity="0.55"/><rect x="1605.0" y="894.0" width="27.0" height="3.0" fill="#1f1f1f" opacity="0.55"/><rect x="205.0" y="925.0" width="43.0" height="7.0" fill="#000000" opacity="0.85"/><rect x="256.0" y="925.0" width="34.0" height="7.0" fill="#000000" opacity="0.85"/><rect x="322.0" y="925.0" width="44.0" height="7.0" fill="#000000" opacity="0.85"/><rect x="490.0" y="925.0" width="32.0" height="7.0" fill="#000000" opacity="0.85"/><rect x="562.0" y="925.0" width="21.0" height="7.0" fill="#000000" opacity="0.85"/><rect x="648.0" y="925.0" width="31.0" height="7.0" fill="#000000" opacity="0.85"/><rect x="703.0" y="925.0" width="47.0" height="7.0" fill="#000000" opacity="0.85"/><rect x="763.0" y="925.0" width="64.0" height="7.0" fill="#000000" opacity="0.85"/><rect x="839.0" y="925.0" width="48.0" height="7.0" fill="#000000" opacity="0.85"/><rect x="973.0" y="925.0" width="45.0" height="7.0" fill="#000000" opacity="0.85"/><rect x="1045.0" y="925.0" width="32.0" height="7.0" fill="#000000" opacity="0.85"/><rect x="1198.0" y="925.0" width="42.0" height="7.0" fill="#000000" opacity="0.85"/><rect x="1409.0" y="925.0" width="27.0" height="7.0" fill="#000000" opacity="0.85"/><rect x="1603.0" y="925.0" width="31.0" height="7.0" fill="#000000" opacity="0.85"/><rect x="102.0" y="932.0" width="1675.0" height="43.0" fill="#2a2a2a"/><rect x="1538.3" y="956.6" width="4.9" height="11.2" fill="#0f0f0f" opacity="0.55"/><rect x="1683.6" y="959.3" width="3.2" height="10.6" fill="#383838" opacity="0.55"/><rect x="1502.7" y="949.0" width="9.8" height="13.4" fill="#1a1a1a" opacity="0.55"/><rect x="666.7" y="946.4" width="6.1" height="7.8" fill="#383838" opacity="0.55"/><rect x="1443.7" y="967.0" width="14.9" height="8.0" fill="#080808" opacity="0.55"/><rect x="643.9" y="961.2" width="4.9" height="6.9" fill="#333333" opacity="0.55"/><rect x="1208.1" y="936.7" width="3.2" height="5.1" fill="#1a1a1a" opacity="0.55"/><rect x="824.3" y="932.9" width="9.6" height="4.5" fill="#333333" opacity="0.55"/><rect x="1397.3" y="959.2" width="15.2" height="11.9" fill="#080808" opacity="0.55"/><rect x="159.3" y="943.4" width="11.3" height="10.5" fill="#1a1a1a" opacity="0.55"/><rect x="1149.9" y="933.5" width="13.5" height="4.1" fill="#080808" opacity="0.55"/><rect x="969.9" y="972.9" width="8.6" height="2.1" fill="#1a1a1a" opacity="0.55"/><rect x="681.7" y="934.6" width="5.2" height="13.5" fill="#383838" opacity="0.55"/><rect x="1605.6" y="957.4" width="4.1" height="13.3" fill="#333333" opacity="0.55"/><rect x="308.7" y="944.6" width="4.7" height="7.5" fill="#1a1a1a" opacity="0.55"/><rect x="559.2" y="963.8" width="12.6" height="6.2" fill="#333333" opacity="0.55"/><rect x="1119.4" y="960.0" width="10.4" height="5.2" fill="#404040" opacity="0.55"/><rect x="713.8" y="945.1" width="14.6" height="8.3" fill="#1a1a1a" opacity="0.55"/><rect x="153.6" y="940.1" width="7.3" height="9.0" fill="#383838" opacity="0.55"/><rect x="763.3" y="939.0" width="15.0" height="13.5" fill="#1a1a1a" opacity="0.55"/><rect x="1030.5" y="944.2" width="9.4" height="13.9" fill="#1a1a1a" opacity="0.55"/><rect x="196.9" y="955.7" width="3.3" height="9.7" fill="#1a1a1a" opacity="0.55"/><rect x="835.9" y="948.7" width="3.8" height="7.8" fill="#404040" opacity="0.55"/><rect x="1374.4" y="974.5" width="9.8" height="0.5" fill="#0f0f0f" opacity="0.55"/><rect x="797.1" y="938.0" width="11.7" height="5.2" fill="#383838" opacity="0.55"/><rect x="1519.8" y="954.3" width="13.7" height="11.1" fill="#404040" opacity="0.55"/><rect x="1640.0" y="943.6" width="15.9" height="9.9" fill="#404040" opacity="0.55"/><rect x="1627.7" y="969.4" width="4.7" height="3.0" fill="#383838" opacity="0.55"/><rect x="1079.2" y="973.4" width="9.5" height="1.6" fill="#333333" opacity="0.55"/><rect x="1519.7" y="958.7" width="6.6" height="4.2" fill="#333333" opacity="0.55"/><rect x="1257.3" y="947.2" width="6.7" height="6.9" fill="#383838" opacity="0.55"/><rect x="1028.3" y="945.8" width="8.0" height="11.7" fill="#333333" opacity="0.55"/><rect x="737.0" y="955.1" width="6.9" height="11.8" fill="#333333" opacity="0.55"/><rect x="1061.8" y="935.8" width="10.6" height="13.1" fill="#1a1a1a" opacity="0.55"/><rect x="1718.2" y="942.4" width="10.9" height="6.6" fill="#333333" opacity="0.55"/><rect x="1588.6" y="933.1" width="15.4" height="5.8" fill="#333333" opacity="0.55"/><rect x="602.1" y="945.4" width="10.0" height="9.8" fill="#333333" opacity="0.55"/><rect x="965.1" y="961.5" width="9.7" height="7.3" fill="#1a1a1a" opacity="0.55"/><rect x="169.9" y="951.5" width="11.8" height="3.1" fill="#080808" opacity="0.55"/><rect x="978.1" y="948.1" width="4.3" height="7.4" fill="#383838" opacity="0.55"/><rect x="1650.6" y="940.1" width="5.0" height="7.6" fill="#333333" opacity="0.55"/><rect x="836.2" y="974.8" width="11.1" height="0.2" fill="#383838" opacity="0.55"/><rect x="1347.1" y="947.6" width="4.2" height="7.0" fill="#080808" opacity="0.55"/><rect x="1479.8" y="936.8" width="9.7" height="12.8" fill="#404040" opacity="0.55"/><rect x="674.7" y="953.9" width="15.2" height="13.7" fill="#404040" opacity="0.55"/><rect x="362.9" y="954.0" width="6.8" height="8.6" fill="#0f0f0f" opacity="0.55"/><rect x="789.6" y="956.3" width="3.8" height="4.2" fill="#383838" opacity="0.55"/><rect x="1759.6" y="933.8" width="11.3" height="7.5" fill="#080808" opacity="0.55"/><rect x="613.6" y="932.2" width="12.0" height="6.3" fill="#080808" opacity="0.55"/><rect x="1079.8" y="940.5" width="11.7" height="8.5" fill="#383838" opacity="0.55"/><rect x="1047.8" y="970.5" width="14.3" height="4.5" fill="#0f0f0f" opacity="0.55"/><rect x="1060.2" y="937.2" width="8.3" height="4.7" fill="#383838" opacity="0.55"/><rect x="279.9" y="939.3" width="4.3" height="8.7" fill="#333333" opacity="0.55"/><rect x="1124.5" y="934.7" width="13.5" height="3.1" fill="#383838" opacity="0.55"/><rect x="640.5" y="947.2" width="12.3" height="4.9" fill="#1a1a1a" opacity="0.55"/><rect x="1150.7" y="972.8" width="14.2" height="2.2" fill="#0f0f0f" opacity="0.55"/><rect x="852.3" y="934.4" width="8.0" height="12.8" fill="#383838" opacity="0.55"/><rect x="1376.4" y="934.3" width="3.6" height="5.6" fill="#0f0f0f" opacity="0.55"/><rect x="175.4" y="968.8" width="15.1" height="6.2" fill="#333333" opacity="0.55"/><rect x="608.5" y="973.3" width="10.8" height="1.7" fill="#080808" opacity="0.55"/><rect x="507.2" y="962.9" width="8.1" height="5.4" fill="#1a1a1a" opacity="0.55"/><rect x="766.9" y="933.0" width="12.3" height="12.6" fill="#080808" opacity="0.55"/><rect x="391.3" y="940.0" width="7.7" height="13.7" fill="#1a1a1a" opacity="0.55"/><rect x="762.6" y="946.4" width="7.7" height="12.6" fill="#1a1a1a" opacity="0.55"/><rect x="774.5" y="937.3" width="3.9" height="12.1" fill="#1a1a1a" opacity="0.55"/><rect x="1025.8" y="952.1" width="8.0" height="6.8" fill="#333333" opacity="0.55"/><rect x="160.2" y="946.7" width="11.6" height="4.7" fill="#404040" opacity="0.55"/><rect x="318.6" y="955.4" width="5.6" height="11.7" fill="#383838" opacity="0.55"/><rect x="841.4" y="966.6" width="13.9" height="4.8" fill="#1a1a1a" opacity="0.55"/><rect x="463.1" y="959.1" width="8.3" height="9.4" fill="#1a1a1a" opacity="0.55"/><rect x="1688.2" y="941.8" width="9.6" height="8.0" fill="#0f0f0f" opacity="0.55"/><rect x="1673.4" y="957.6" width="16.0" height="7.8" fill="#1a1a1a" opacity="0.55"/><rect x="993.8" y="953.9" width="8.3" height="4.4" fill="#080808" opacity="0.55"/><rect x="1232.7" y="968.6" width="4.2" height="6.4" fill="#333333" opacity="0.55"/><rect x="149.9" y="938.2" width="12.3" height="3.2" fill="#404040" opacity="0.55"/><rect x="245.5" y="968.6" width="5.3" height="6.4" fill="#404040" opacity="0.55"/><rect x="1588.7" y="971.3" width="3.9" height="3.7" fill="#1a1a1a" opacity="0.55"/><rect x="423.6" y="935.8" width="12.3" height="6.2" fill="#404040" opacity="0.55"/><rect x="767.5" y="968.3" width="7.6" height="6.7" fill="#404040" opacity="0.55"/><rect x="1574.4" y="937.7" width="14.2" height="6.0" fill="#080808" opacity="0.55"/><rect x="713.5" y="961.7" width="13.4" height="12.9" fill="#080808" opacity="0.55"/><rect x="1201.3" y="942.7" width="12.1" height="12.3" fill="#1a1a1a" opacity="0.55"/><rect x="1613.3" y="944.5" width="4.3" height="6.0" fill="#383838" opacity="0.55"/><rect x="1326.4" y="933.7" width="12.3" height="3.4" fill="#0f0f0f" opacity="0.55"/><rect x="820.4" y="938.7" width="12.8" height="11.1" fill="#383838" opacity="0.55"/><rect x="620.6" y="939.7" width="11.3" height="12.2" fill="#383838" opacity="0.55"/><rect x="932.5" y="971.8" width="9.8" height="3.2" fill="#383838" opacity="0.55"/><rect x="684.2" y="967.9" width="3.0" height="7.1" fill="#1a1a1a" opacity="0.55"/><rect x="1605.0" y="957.2" width="14.4" height="10.7" fill="#0f0f0f" opacity="0.55"/><rect x="1238.0" y="945.7" width="3.5" height="11.5" fill="#1a1a1a" opacity="0.55"/><rect x="1352.2" y="961.9" width="4.1" height="7.3" fill="#404040" opacity="0.55"/><rect x="1128.4" y="954.7" width="5.9" height="6.8" fill="#333333" opacity="0.55"/><rect x="840.2" y="953.6" width="7.4" height="10.6" fill="#404040" opacity="0.55"/><rect x="1146.1" y="961.1" width="9.6" height="5.3" fill="#404040" opacity="0.55"/><rect x="955.8" y="937.5" width="15.1" height="11.4" fill="#080808" opacity="0.55"/><rect x="1690.4" y="956.0" width="13.7" height="4.9" fill="#0f0f0f" opacity="0.55"/><rect x="1719.0" y="955.4" width="11.3" height="5.7" fill="#080808" opacity="0.55"/><rect x="382.3" y="936.0" width="7.5" height="10.0" fill="#0f0f0f" opacity="0.55"/><rect x="329.8" y="960.8" width="12.2" height="5.6" fill="#0f0f0f" opacity="0.55"/><rect x="111.8" y="937.7" width="12.0" height="10.1" fill="#404040" opacity="0.55"/><rect x="601.4" y="938.1" width="14.5" height="9.2" fill="#1a1a1a" opacity="0.55"/><rect x="1151.8" y="950.3" width="4.5" height="13.4" fill="#404040" opacity="0.55"/><rect x="1213.8" y="951.8" width="10.8" height="11.4" fill="#0f0f0f" opacity="0.55"/><rect x="292.9" y="947.5" width="6.8" height="5.3" fill="#080808" opacity="0.55"/><rect x="1596.2" y="936.8" width="7.0" height="6.4" fill="#080808" opacity="0.55"/><rect x="371.1" y="956.5" width="8.8" height="6.2" fill="#383838" opacity="0.55"/><rect x="221.8" y="974.7" width="3.1" height="0.3" fill="#080808" opacity="0.55"/><rect x="1348.5" y="963.8" width="7.3" height="5.9" fill="#404040" opacity="0.55"/><rect x="917.4" y="940.2" width="8.6" height="9.0" fill="#080808" opacity="0.55"/><rect x="701.3" y="944.3" width="4.2" height="9.7" fill="#404040" opacity="0.55"/><rect x="1190.5" y="942.6" width="6.3" height="4.5" fill="#080808" opacity="0.55"/><rect x="144.2" y="938.2" width="8.1" height="7.0" fill="#404040" opacity="0.55"/><rect x="978.4" y="961.3" width="14.6" height="4.1" fill="#404040" opacity="0.55"/><rect x="1487.1" y="946.0" width="12.7" height="5.0" fill="#1a1a1a" opacity="0.55"/><rect x="636.0" y="955.7" width="7.8" height="7.1" fill="#1a1a1a" opacity="0.55"/><rect x="501.3" y="956.4" width="3.5" height="9.9" fill="#404040" opacity="0.55"/><rect x="774.6" y="941.3" width="3.7" height="7.7" fill="#404040" opacity="0.55"/><rect x="364.7" y="957.0" width="6.9" height="3.9" fill="#404040" opacity="0.55"/><rect x="481.5" y="959.4" width="4.8" height="7.4" fill="#080808" opacity="0.55"/><rect x="1520.9" y="941.4" width="9.2" height="7.1" fill="#080808" opacity="0.55"/><rect x="1504.5" y="965.8" width="14.1" height="7.7" fill="#1a1a1a" opacity="0.55"/><rect x="222.1" y="962.6" width="3.7" height="12.4" fill="#080808" opacity="0.55"/><rect x="833.7" y="967.5" width="11.7" height="7.5" fill="#0f0f0f" opacity="0.55"/><rect x="733.9" y="966.6" width="3.1" height="8.4" fill="#383838" opacity="0.55"/><rect x="428.0" y="945.9" width="4.1" height="8.1" fill="#383838" opacity="0.55"/><rect x="1617.7" y="973.9" width="14.3" height="1.1" fill="#383838" opacity="0.55"/><rect x="237.8" y="963.1" width="13.5" height="6.6" fill="#404040" opacity="0.55"/><rect x="597.5" y="973.0" width="10.4" height="2.0" fill="#404040" opacity="0.55"/><rect x="330.3" y="954.8" width="14.2" height="10.0" fill="#0f0f0f" opacity="0.55"/><rect x="473.1" y="961.7" width="12.6" height="4.6" fill="#383838" opacity="0.55"/><rect x="722.5" y="949.9" width="10.5" height="8.8" fill="#383838" opacity="0.55"/><rect x="838.2" y="941.8" width="6.4" height="13.7" fill="#0f0f0f" opacity="0.55"/><rect x="1016.3" y="969.1" width="4.5" height="5.8" fill="#080808" opacity="0.55"/><rect x="414.8" y="962.5" width="11.7" height="5.5" fill="#333333" opacity="0.55"/><rect x="479.9" y="936.9" width="10.4" height="8.6" fill="#383838" opacity="0.55"/><rect x="1047.5" y="961.2" width="14.1" height="11.8" fill="#0f0f0f" opacity="0.55"/><rect x="1542.3" y="962.7" width="10.2" height="11.3" fill="#080808" opacity="0.55"/><rect x="1147.2" y="954.2" width="15.5" height="8.1" fill="#404040" opacity="0.55"/><rect x="755.8" y="973.3" width="5.2" height="1.7" fill="#080808" opacity="0.55"/><rect x="330.2" y="934.5" width="13.1" height="5.6" fill="#1a1a1a" opacity="0.55"/><rect x="171.6" y="973.1" width="12.1" height="1.9" fill="#080808" opacity="0.55"/><rect x="1282.0" y="970.2" width="8.5" height="4.8" fill="#0f0f0f" opacity="0.55"/><rect x="1041.0" y="969.4" width="14.9" height="4.8" fill="#404040" opacity="0.55"/><rect x="1505.6" y="963.7" width="13.5" height="3.1" fill="#1a1a1a" opacity="0.55"/><rect x="306.7" y="963.7" width="7.8" height="11.3" fill="#404040" opacity="0.55"/><rect x="917.6" y="947.2" width="13.6" height="6.9" fill="#1a1a1a" opacity="0.55"/><rect x="1441.4" y="971.8" width="4.5" height="3.2" fill="#1a1a1a" opacity="0.55"/><rect x="693.1" y="932.9" width="12.0" height="13.9" fill="#333333" opacity="0.55"/><rect x="291.4" y="936.7" width="3.3" height="11.8" fill="#0f0f0f" opacity="0.55"/><rect x="352.6" y="969.6" width="15.1" height="5.4" fill="#0f0f0f" opacity="0.55"/><rect x="1083.3" y="974.9" width="6.3" height="0.1" fill="#1a1a1a" opacity="0.55"/><rect x="1684.5" y="946.7" width="3.2" height="4.7" fill="#383838" opacity="0.55"/><rect x="909.3" y="968.0" width="3.4" height="3.8" fill="#383838" opacity="0.55"/><rect x="1466.9" y="948.9" width="11.8" height="8.2" fill="#0f0f0f" opacity="0.55"/><rect x="1257.8" y="941.9" width="8.8" height="13.5" fill="#383838" opacity="0.55"/><rect x="228.6" y="941.3" width="7.3" height="12.8" fill="#383838" opacity="0.55"/><rect x="1143.9" y="967.2" width="5.7" height="7.8" fill="#1a1a1a" opacity="0.55"/><rect x="1064.5" y="947.2" width="8.0" height="3.1" fill="#383838" opacity="0.55"/><rect x="908.4" y="942.7" width="5.9" height="12.6" fill="#383838" opacity="0.55"/><rect x="177.7" y="960.9" width="4.9" height="6.0" fill="#1a1a1a" opacity="0.55"/><rect x="120.0" y="941.0" width="60.0" height="8.0" fill="#000" opacity="0.56"/><rect x="216.0" y="933.0" width="40.0" height="21.0" fill="#000" opacity="0.60"/><rect x="311.0" y="941.0" width="53.0" height="13.0" fill="#000" opacity="0.72"/><rect x="464.0" y="925.0" width="58.0" height="29.0" fill="#000" opacity="0.72"/><rect x="520.0" y="932.0" width="27.0" height="18.0" fill="#000" opacity="0.68"/><rect x="598.0" y="932.0" width="27.0" height="13.0" fill="#000" opacity="0.56"/><rect x="651.0" y="932.0" width="29.0" height="28.0" fill="#000" opacity="0.60"/><rect x="698.0" y="938.0" width="52.0" height="28.0" fill="#000" opacity="0.72"/><rect x="764.0" y="932.0" width="21.0" height="23.0" fill="#000" opacity="0.56"/><rect x="838.0" y="932.0" width="51.0" height="20.0" fill="#000" opacity="0.68"/><rect x="940.0" y="940.0" width="20.0" height="20.0" fill="#000" opacity="0.40"/><rect x="973.0" y="932.0" width="45.0" height="10.0" fill="#000" opacity="0.68"/><rect x="1137.0" y="952.0" width="119.0" height="23.0" fill="#000" opacity="0.48"/><rect x="1030.0" y="955.0" width="70.0" height="20.0" fill="#000" opacity="0.32"/><rect x="1483.0" y="940.0" width="77.0" height="30.0" fill="#000" opacity="0.36"/><rect x="1300.0" y="945.0" width="60.0" height="30.0" fill="#000" opacity="0.32"/><rect x="1640.0" y="932.0" width="60.0" height="13.0" fill="#000" opacity="0.40"/><rect x="1720.0" y="940.0" width="56.0" height="15.0" fill="#000" opacity="0.36"/><rect x="560.0" y="955.0" width="40.0" height="20.0" fill="#000" opacity="0.28"/><rect x="880.0" y="958.0" width="60.0" height="17.0" fill="#000" opacity="0.32"/><rect x="1018.0" y="934.0" width="238.0" height="16.0" fill="#3d3d3d" opacity="0.80"/><rect x="1639.0" y="960.0" width="21.0" height="5.0" fill="#404040" opacity="0.80"/><rect x="1696.0" y="960.0" width="19.0" height="5.0" fill="#404040" opacity="0.80"/><rect x="1750.0" y="960.0" width="20.0" height="5.0" fill="#404040" opacity="0.80"/><rect x="311.0" y="959.0" width="42.0" height="4.0" fill="#4c4c4c" opacity="0.80"/><rect x="100.0" y="925.0" width="105.0" height="8.0" fill="#383838" opacity="0.70"/><rect x="364.0" y="925.0" width="89.0" height="8.0" fill="#383838" opacity="0.70"/><rect x="309.0" y="812.0" width="11.0" height="51.0" fill="#424242" opacity="0.70"/><rect x="309.0" y="869.0" width="11.0" height="51.0" fill="#474747" opacity="0.70"/><rect x="367.0" y="812.0" width="12.0" height="51.0" fill="#424242" opacity="0.70"/><rect x="367.0" y="869.0" width="12.0" height="51.0" fill="#474747" opacity="0.70"/><rect x="461.0" y="812.0" width="8.0" height="51.0" fill="#424242" opacity="0.70"/><rect x="461.0" y="869.0" width="8.0" height="51.0" fill="#474747" opacity="0.70"/><rect x="522.0" y="812.0" width="26.0" height="51.0" fill="#424242" opacity="0.70"/><rect x="522.0" y="869.0" width="26.0" height="51.0" fill="#474747" opacity="0.70"/><rect x="582.0" y="812.0" width="16.0" height="51.0" fill="#424242" opacity="0.70"/><rect x="582.0" y="869.0" width="16.0" height="51.0" fill="#474747" opacity="0.70"/><rect x="625.0" y="812.0" width="23.0" height="51.0" fill="#424242" opacity="0.70"/><rect x="625.0" y="869.0" width="23.0" height="51.0" fill="#474747" opacity="0.70"/><rect x="679.0" y="812.0" width="24.0" height="51.0" fill="#424242" opacity="0.70"/><rect x="679.0" y="869.0" width="24.0" height="51.0" fill="#474747" opacity="0.70"/><rect x="750.0" y="812.0" width="13.0" height="51.0" fill="#424242" opacity="0.70"/><rect x="750.0" y="869.0" width="13.0" height="51.0" fill="#474747" opacity="0.70"/><rect x="827.0" y="812.0" width="12.0" height="51.0" fill="#424242" opacity="0.70"/><rect x="827.0" y="869.0" width="12.0" height="51.0" fill="#474747" opacity="0.70"/><rect x="887.0" y="812.0" width="25.0" height="51.0" fill="#424242" opacity="0.70"/><rect x="887.0" y="869.0" width="25.0" height="51.0" fill="#474747" opacity="0.70"/><defs><filter id="soft" x="-20%" y="-20%" width="140%" height="140%"><feGaussianBlur stdDeviation="1.8 1.5"/></filter></defs><g filter="url(#soft)"><rect x="361.0" y="815.0" width="18.0" height="20.0" fill="#b2b2b2" opacity="0.90"/><rect x="175.0" y="871.0" width="24.0" height="12.0" fill="#8c8c8c" opacity="0.90"/><rect x="184.0" y="881.0" width="14.0" height="33.0" fill="#616161" opacity="0.90"/><rect x="189.0" y="810.0" width="15.0" height="11.0" fill="#545454" opacity="0.90"/><rect x="101.0" y="871.0" width="10.0" height="12.0" fill="#666666" opacity="0.90"/><rect x="310.0" y="871.0" width="11.0" height="35.0" fill="#6b6b6b" opacity="0.90"/><rect x="366.0" y="871.0" width="12.0" height="12.0" fill="#808080" opacity="0.90"/><rect x="462.0" y="871.0" width="8.0" height="30.0" fill="#6b6b6b" opacity="0.90"/><rect x="521.0" y="871.0" width="28.0" height="25.0" fill="#808080" opacity="0.90"/><rect x="624.0" y="886.0" width="25.0" height="35.0" fill="#999999" opacity="0.90"/><rect x="678.0" y="894.0" width="26.0" height="12.0" fill="#808080" opacity="0.90"/><rect x="749.0" y="821.0" width="15.0" height="15.0" fill="#737373" opacity="0.90"/><rect x="749.0" y="894.0" width="15.0" height="22.0" fill="#b8b8b8" opacity="0.90"/><rect x="826.0" y="814.0" width="14.0" height="22.0" fill="#c7c7c7" opacity="0.90"/><rect x="886.0" y="871.0" width="27.0" height="15.0" fill="#737373" opacity="0.90"/><rect x="1023.0" y="823.0" width="16.0" height="12.0" fill="#808080" opacity="0.90"/><rect x="325.0" y="834.0" width="13.0" height="10.0" fill="#737373" opacity="0.90"/><rect x="1138.0" y="823.0" width="21.0" height="12.0" fill="#b8b8b8" opacity="0.90"/><rect x="1224.0" y="823.0" width="17.0" height="12.0" fill="#8c8c8c" opacity="0.90"/><rect x="1239.0" y="823.0" width="32.0" height="12.0" fill="#bfbfbf" opacity="0.90"/><rect x="1188.0" y="896.0" width="11.0" height="10.0" fill="#999999" opacity="0.90"/><rect x="1241.0" y="871.0" width="90.0" height="43.0" fill="#575757" opacity="0.90"/><rect x="1079.0" y="850.0" width="162.0" height="13.0" fill="#424242" opacity="0.90"/><rect x="404.0" y="849.0" width="50.0" height="14.0" fill="#474747" opacity="0.90"/><rect x="1492.0" y="871.0" width="29.0" height="51.0" fill="#616161" opacity="0.90"/><rect x="1504.0" y="876.0" width="9.0" height="15.0" fill="#8c8c8c" opacity="0.90"/><rect x="1716.0" y="871.0" width="29.0" height="51.0" fill="#666666" opacity="0.90"/><rect x="1716.0" y="850.0" width="10.0" height="13.0" fill="#b2b2b2" opacity="0.90"/><rect x="1765.0" y="839.0" width="6.0" height="18.0" fill="#b2b2b2" opacity="0.90"/><rect x="1755.0" y="840.0" width="6.0" height="14.0" fill="#808080" opacity="0.90"/><rect x="1771.0" y="822.0" width="5.0" height="12.0" fill="#999999" opacity="0.90"/><rect x="1736.0" y="836.0" width="5.0" height="18.0" fill="#b2b2b2" opacity="0.90"/><rect x="1759.0" y="879.0" width="18.0" height="27.0" fill="#4c4c4c" opacity="0.90"/><rect x="944.0" y="892.0" width="30.0" height="6.0" fill="#737373" opacity="0.90"/></g><rect x="453.0" y="805.0" width="11.0" height="170.0" fill="#000" opacity="0.95"/><rect x="455.0" y="89.0" width="7.0" height="8.0" fill="#808080"/><rect x="455.0" y="127.0" width="7.0" height="8.0" fill="#d9d9d9"/><rect x="455.0" y="356.0" width="7.0" height="8.0" fill="#cccccc"/><rect x="455.0" y="590.0" width="7.0" height="8.0" fill="#cccccc"/><rect x="455.0" y="817.0" width="7.0" height="8.0" fill="#d9d9d9"/><rect x="712.5" y="51.0" width="3.5" height="59.0" fill="#808080" opacity="0.90"/><rect x="712.5" y="110.0" width="3.5" height="193.0" fill="#545454" opacity="0.80"/></g></g>
<rect x="102.5" y="51.5" width="1674" height="924" fill="none" stroke="#000" stroke-width="1.2"/>
<path d="M96.3 975.50H102.5M96.3 820.50H102.5M96.3 666.50H102.5M96.3 512.50H102.5M96.3 358.50H102.5M96.3 204.50H102.5M102.50 975V981.5M214.50 975V981.5M325.50 975V981.5M437.50 975V981.5M548.50 975V981.5M660.50 975V981.5M771.50 975V981.5M883.50 975V981.5M995.50 975V981.5M1106.50 975V981.5M1218.50 975V981.5M1329.50 975V981.5M1441.50 975V981.5M1552.50 975V981.5M1664.50 975V981.5" stroke="#000" stroke-width="1.1" fill="none"/>
<text x="88.6" y="985.90" font-size="31.7" text-anchor="end">20</text>
<text x="88.6" y="831.90" font-size="31.7" text-anchor="end">30</text>
<text x="88.6" y="677.90" font-size="31.7" text-anchor="end">40</text>
<text x="88.6" y="523.90" font-size="31.7" text-anchor="end">50</text>
<text x="88.6" y="369.90" font-size="31.7" text-anchor="end">60</text>
<text x="88.6" y="215.90" font-size="31.7" text-anchor="end">70</text>
<text x="101.40" y="1010.6" font-size="31.7" text-anchor="middle" textLength="85" lengthAdjust="spacingAndGlyphs">20:00</text>
<text x="212.96" y="1010.6" font-size="31.7" text-anchor="middle" textLength="85" lengthAdjust="spacingAndGlyphs">20:01</text>
<text x="324.52" y="1010.6" font-size="31.7" text-anchor="middle" textLength="85" lengthAdjust="spacingAndGlyphs">20:02</text>
<text x="436.08" y="1010.6" font-size="31.7" text-anchor="middle" textLength="85" lengthAdjust="spacingAndGlyphs">20:03</text>
<text x="547.64" y="1010.6" font-size="31.7" text-anchor="middle" textLength="85" lengthAdjust="spacingAndGlyphs">20:04</text>
<text x="659.20" y="1010.6" font-size="31.7" text-anchor="middle" textLength="85" lengthAdjust="spacingAndGlyphs">20:05</text>
<text x="770.76" y="1010.6" font-size="31.7" text-anchor="middle" textLength="85" lengthAdjust="spacingAndGlyphs">20:06</text>
<text x="882.32" y="1010.6" font-size="31.7" text-anchor="middle" textLength="85" lengthAdjust="spacingAndGlyphs">20:07</text>
<text x="993.88" y="1010.6" font-size="31.7" text-anchor="middle" textLength="85" lengthAdjust="spacingAndGlyphs">20:08</text>
<text x="1105.44" y="1010.6" font-size="31.7" text-anchor="middle" textLength="85" lengthAdjust="spacingAndGlyphs">20:09</text>
<text x="1217.00" y="1010.6" font-size="31.7" text-anchor="middle" textLength="85" lengthAdjust="spacingAndGlyphs">20:10</text>
<text x="1328.56" y="1010.6" font-size="31.7" text-anchor="middle" textLength="85" lengthAdjust="spacingAndGlyphs">20:11</text>
<text x="1440.12" y="1010.6" font-size="31.7" text-anchor="middle" textLength="85" lengthAdjust="spacingAndGlyphs">20:12</text>
<text x="1551.68" y="1010.6" font-size="31.7" text-anchor="middle" textLength="85" lengthAdjust="spacingAndGlyphs">20:13</text>
<text x="1663.24" y="1010.6" font-size="31.7" text-anchor="middle" textLength="85" lengthAdjust="spacingAndGlyphs">20:14</text>
<text x="742.0" y="1049" font-size="35.9" textLength="203.4" lengthAdjust="spacingAndGlyphs">Observation</text>
<text x="955.7" y="1049" font-size="35.9" textLength="75.9" lengthAdjust="spacingAndGlyphs">time</text>
<text x="1043.0" y="1049" font-size="35.9" textLength="90.1" lengthAdjust="spacingAndGlyphs">[UTC]</text>
<text transform="translate(36.9,652.7) rotate(-90)" font-size="35.9" textLength="171.7" lengthAdjust="spacingAndGlyphs">Frequency</text>
<text transform="translate(36.9,469.6) rotate(-90)" font-size="35.9" textLength="94.1" lengthAdjust="spacingAndGlyphs">[MHz]</text>
<text x="250.0" y="41.4" font-size="40.3" textLength="210.0" lengthAdjust="spacingAndGlyphs">2025/11/06</text>
<text x="485.0" y="41.4" font-size="40.3" textLength="102.0" lengthAdjust="spacingAndGlyphs">Radio</text>
<text x="599.0" y="41.4" font-size="40.3" textLength="68.0" lengthAdjust="spacingAndGlyphs">flux</text>
<text x="679.0" y="41.4" font-size="40.3" textLength="145.8" lengthAdjust="spacingAndGlyphs">density,</text>
<text x="836.4" y="41.4" font-size="40.3" textLength="212.6" lengthAdjust="spacingAndGlyphs">e-CALLISTO</text>
<text x="1061.7" y="41.4" font-size="40.3" textLength="290.4" lengthAdjust="spacingAndGlyphs">(ROSWELL-NM),</text>
<text x="1362.0" y="41.4" font-size="40.3" textLength="205.6" lengthAdjust="spacingAndGlyphs">Focuscode:</text>
<text x="1579.4" y="41.4" font-size="40.3" textLength="46.0" lengthAdjust="spacingAndGlyphs">58</text>
<rect x="1916.5" y="27.5" width="43" height="960.0" fill="url(#cbg)"/>
<rect x="1916.5" y="27.5" width="43" height="960.0" fill="none" stroke="#000" stroke-width="1.1"/>
<text x="1971" y="993.40" font-size="17.1" textLength="21" lengthAdjust="spacingAndGlyphs">−2</text>
<text x="1971" y="880.46" font-size="17.1">0</text>
<text x="1971" y="767.52" font-size="17.1">2</text>
<text x="1971" y="654.58" font-size="17.1">4</text>
<text x="1971" y="541.64" font-size="17.1">6</text>
<text x="1971" y="428.69" font-size="17.1">8</text>
<text x="1971" y="315.75" font-size="17.1">10</text>
<text x="1971" y="202.81" font-size="17.1">12</text>
<text x="1971" y="89.87" font-size="17.1">14</text>
<path d="M1959.5 987.50H1965.8M1959.5 874.50H1965.8M1959.5 761.50H1965.8M1959.5 648.50H1965.8M1959.5 535.50H1965.8M1959.5 422.50H1965.8M1959.5 309.50H1965.8M1959.5 196.50H1965.8M1959.5 83.50H1965.8" stroke="#000" stroke-width="1.1" fill="none"/>
<text transform="translate(2026.9,689.5) rotate(-90)" font-size="35.7" textLength="42.5" lengthAdjust="spacingAndGlyphs">dB</text>
<text transform="translate(2026.9,634.0) rotate(-90)" font-size="35.7" textLength="103.0" lengthAdjust="spacingAndGlyphs">above</text>
<text transform="translate(2026.9,520.7) rotate(-90)" font-size="35.7" textLength="193.7" lengthAdjust="spacingAndGlyphs">background</text>
</svg></body></html>
